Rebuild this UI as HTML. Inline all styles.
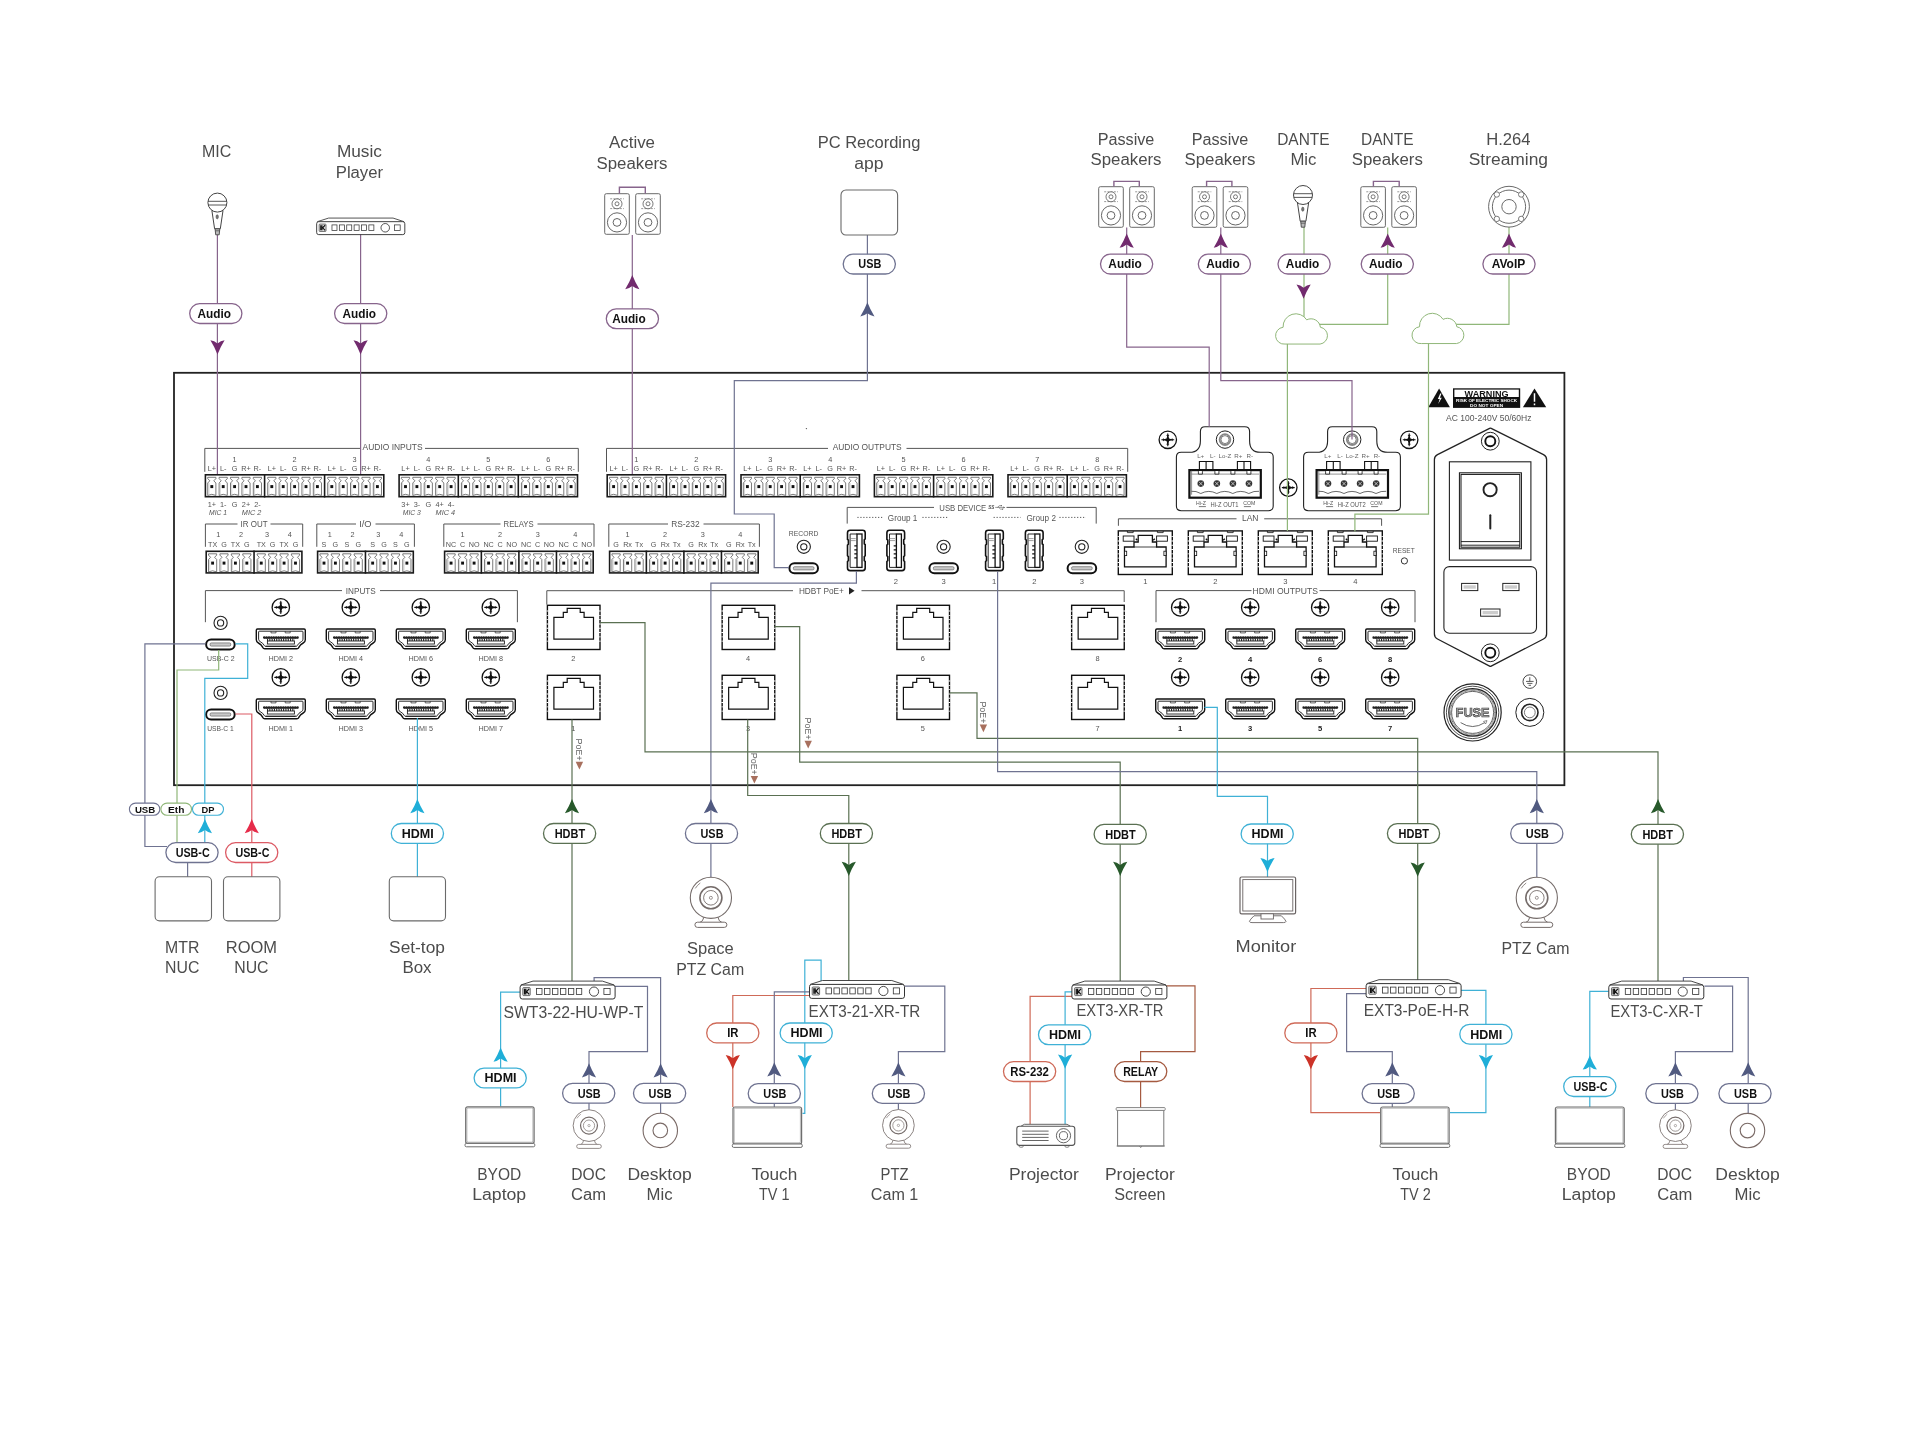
<!DOCTYPE html>
<html><head><meta charset="utf-8"><title>Connection diagram</title>
<style>html,body{margin:0;padding:0;background:#fff}svg{display:block;will-change:transform}text{font-family:"Liberation Sans",sans-serif}</style></head>
<body>
<svg width="1920" height="1443" viewBox="0 0 1920 1443">
<rect width="1920" height="1443" fill="#fff"/>
<defs><g id="pin"><path d="M1.7,21.4 V9 L3.9,6.8 L1.7,4.6 V3.3 H10.3 V4.6 L8.1,6.8 L10.3,9 V21.4 Q6,19.2 1.7,21.4 Z" fill="#fff" stroke="#555" stroke-width="0.8" stroke-linejoin="round"/><path d="M3,20 V9" stroke="#bbb" stroke-width="0.6"/><rect x="4.5" y="11.1" width="3" height="3" fill="#111"/></g><g id="hdmi"><path d="M-24.5,1.8 Q-24.5,0.6 -23.3,0.6 H23.3 Q24.5,0.6 24.5,1.8 V11.4 Q24.5,13.6 22.4,14.6 Q19.2,16.2 18,19 Q17.5,20.3 16,20.3 H-16 Q-17.5,20.3 -18,19 Q-19.2,16.2 -22.4,14.6 Q-24.5,13.6 -24.5,11.4 Z" fill="#fff" stroke="#111" stroke-width="1.4" stroke-linejoin="round"/><path d="M-22.2,3.6 Q-22.2,2.8 -21.4,2.8 H21.4 Q22.2,2.8 22.2,3.6 V10.8 Q22.2,12.4 20.6,13.2 Q17.6,14.8 16.4,17.2 Q16,18.1 15,18.1 H-15 Q-16,18.1 -16.4,17.2 Q-17.6,14.8 -20.6,13.2 Q-22.2,12.4 -22.2,10.8 Z" fill="none" stroke="#111" stroke-width="0.9"/><path d="M-9.8,2.8 v1.7 h5 v-1.7 M4.4,2.8 v1.7 h5 v-1.7" fill="none" stroke="#222" stroke-width="0.7"/><line x1="-16.6" y1="9.1" x2="16.8" y2="9.1" stroke="#222" stroke-width="2.5" stroke-dasharray="0.1 2.28" stroke-linecap="round"/><line x1="-16.6" y1="9.7" x2="16.8" y2="9.7" stroke="#222" stroke-width="1"/><line x1="-13.8" y1="11.6" x2="14" y2="11.6" stroke="#222" stroke-width="2.4" stroke-dasharray="1.1 1.2"/><rect x="-13.4" y="12.6" width="27" height="3" fill="#fff" stroke="#222" stroke-width="0.9"/><line x1="-15.4" y1="17" x2="15.4" y2="17" stroke="#777" stroke-width="0.7"/></g><g id="screw"><circle r="8.7" fill="#fff" stroke="#111" stroke-width="1.3"/><path d="M-6,0 H6 M0,-6 V6" stroke="#111" stroke-width="1.1" stroke-linecap="round"/><path d="M0,-5.2 L1.3,-1.3 L5.2,0 L1.3,1.3 L0,5.2 L-1.3,1.3 L-5.2,0 L-1.3,-1.3 Z" fill="#111"/><path d="M-1.3,-4.4 H1.3 M-1.3,4.4 H1.3 M-4.4,-1.3 V1.3 M4.4,-1.3 V1.3" stroke="#111" stroke-width="0.9"/></g><g id="usbc"><rect x="1" y="1" width="28.6" height="10" rx="5" fill="#fff" stroke="#111" stroke-width="2"/><rect x="5" y="4.4" width="20.6" height="3.2" rx="1.2" fill="#c9c9c9" stroke="#666" stroke-width="0.7"/></g><g id="jack"><circle r="6.6" fill="#fff" stroke="#222" stroke-width="1.1"/><circle r="3.1" fill="#fff" stroke="#222" stroke-width="1.1"/></g><g id="usba"><path d="M3.4,0.8 H15.9 Q18.5,0.8 18.5,3.4 V9.5 l-0.9,0.9 v4 l0.9,0.9 V26.3 l-0.9,0.9 v4 l0.9,0.9 V38.6 Q18.5,41.2 15.9,41.2 H3.4 Q0.8,41.2 0.8,38.6 V32.1 l0.9,-0.9 v-4 l-0.9,-0.9 V15.7 l0.9,-0.9 v-4 l-0.9,-0.9 V3.4 Q0.8,0.8 3.4,0.8 Z" fill="#fff" stroke="#111" stroke-width="1.6"/><rect x="10.3" y="4.6" width="5" height="33.4" fill="#fff" stroke="#111" stroke-width="1.3"/><path d="M3.4,4.6 H10.3 M3.4,38 H10.3 M3.4,4.6 V38" fill="none" stroke="#111" stroke-width="0.9"/><path d="M3.4,9.2 H9 M3.4,11.2 H9" stroke="#777" stroke-width="0.7"/><path d="M7.6,16.5 H10.3 M7.6,20.5 H10.3 M7.6,24.5 H10.3 M7.6,28.5 H10.3" stroke="#111" stroke-width="1.2"/></g><g id="rjh"><rect x="0.7" y="0.7" width="52.6" height="44.2" fill="#fff" stroke="#111" stroke-width="1.4"/><path d="M0.8,6 V40 M53.2,6 V40" stroke="#fff" stroke-width="1.8" stroke-dasharray="0.9 3.4"/><path d="M7.2,34.6 V12.8 H16.6 V7.8 H20.5 V3.8 H33.5 V7.8 H37.4 V12.8 H46.8 V34.6 Z" fill="#fff" stroke="#111" stroke-width="1.2"/></g><g id="rjl"><rect x="0.7" y="0.7" width="54" height="43.6" fill="#fff" stroke="#111" stroke-width="1.4"/><path d="M0.8,6 V40 M54.6,6 V40" stroke="#fff" stroke-width="1.8" stroke-dasharray="0.9 3.4"/><path d="M9.8,0.8 v1.6 h5.8 v-1.6 M39.8,0.8 v1.6 h5.8 v-1.6" fill="none" stroke="#111" stroke-width="0.8"/><rect x="5.6" y="5.8" width="10.8" height="5.2" fill="#fff" stroke="#111" stroke-width="0.9"/><rect x="39" y="5.8" width="10.8" height="5.2" fill="#fff" stroke="#111" stroke-width="0.9"/><path d="M6.9,36.6 V16.8 H16.4 V11.8 H20.6 V5.2 H34.8 V11.8 H39 V16.8 H48.5 V36.6 Z" fill="#fff" stroke="#111" stroke-width="1.3"/><path d="M16.4,16.8 H39" stroke="#111" stroke-width="0.8"/><path d="M18.2,8.5 l1.6,1.6 M37.2,8.5 l-1.6,1.6" stroke="#111" stroke-width="1.3"/><rect x="6.9" y="21" width="2.2" height="4.4" fill="#fff" stroke="#111" stroke-width="0.8"/><rect x="46.3" y="21" width="2.2" height="4.4" fill="#fff" stroke="#111" stroke-width="0.8"/></g><g id="kdev"><path d="M1.2,4.4 L13.4,0.5 H82.8 L94.6,4.4" fill="#fff" stroke="#333" stroke-width="0.9"/><rect x="0.5" y="4.4" width="95" height="14" rx="2.2" fill="#fff" stroke="#333" stroke-width="1"/><rect x="3.2" y="7" width="7.4" height="8" rx="0.8" fill="#ddd" stroke="#333" stroke-width="0.7"/><path d="M4.9,8.2 V13.8 M6.2,8.2 V13.8 M9.6,8.2 L7,11 L9.6,13.8" fill="none" stroke="#111" stroke-width="1.2"/><rect x="17" y="7.9" width="5.4" height="6" fill="#fff" stroke="#333" stroke-width="0.8"/><rect x="24.95" y="7.9" width="5.4" height="6" fill="#fff" stroke="#333" stroke-width="0.8"/><rect x="32.9" y="7.9" width="5.4" height="6" fill="#fff" stroke="#333" stroke-width="0.8"/><rect x="40.85" y="7.9" width="5.4" height="6" fill="#fff" stroke="#333" stroke-width="0.8"/><rect x="48.8" y="7.9" width="5.4" height="6" fill="#fff" stroke="#333" stroke-width="0.8"/><rect x="56.75" y="7.9" width="5.4" height="6" fill="#fff" stroke="#333" stroke-width="0.8"/><circle cx="74.4" cy="11" r="4.6" fill="#fff" stroke="#333" stroke-width="0.9"/><rect x="84.3" y="7.9" width="6.2" height="6" fill="#fff" stroke="#333" stroke-width="0.8"/></g><g id="spk"><rect x="0.5" y="0.5" width="24.6" height="40.6" rx="1.6" fill="#fff" stroke="#6a6a6a" stroke-width="1"/><path d="M6,5.6 H19.6 M6,15.4 H19.6" stroke="#6a6a6a" stroke-width="0.7" stroke-dasharray="2 1.2"/><circle cx="12.8" cy="10.6" r="5" fill="#fff" stroke="#555" stroke-width="0.8"/><circle cx="12.8" cy="10.6" r="2" fill="#fff" stroke="#555" stroke-width="0.8"/><circle cx="12.8" cy="29.2" r="9.6" fill="#fff" stroke="#555" stroke-width="0.9"/><circle cx="12.8" cy="29.2" r="3.9" fill="#fff" stroke="#555" stroke-width="0.9"/></g><g id="mic"><path d="M-5.5,8 L-2.8,26.2 H2.9 L5.6,8 Z" fill="#fff" stroke="#444" stroke-width="1" stroke-linejoin="round"/><path d="M-2.3,26.2 L-1.7,32.2 H1.8 L2.4,26.2 Z" fill="#bbb" stroke="#444" stroke-width="0.9" stroke-linejoin="round"/><path d="M-2,28.2 H2.1" stroke="#444" stroke-width="0.7"/><circle r="9.5" fill="#fff" stroke="#444" stroke-width="1"/><path d="M-9.4,-1.3 H9.4 M-9.2,2.4 H9.2" stroke="#444" stroke-width="0.9"/><ellipse cx="-0.2" cy="14.2" rx="1.2" ry="2.1" fill="#777" stroke="#444" stroke-width="0.5"/></g><g id="cam"><path d="M-7,19.4 Q-8,24 -11,24.6 M7,19.4 Q8,24 11,24.6" fill="none" stroke="#756c6a" stroke-width="1"/><rect x="-16" y="24.4" width="32" height="5.2" rx="2.6" fill="#fff" stroke="#756c6a" stroke-width="1"/><circle r="20.6" fill="#fff" stroke="#756c6a" stroke-width="1.1"/><path d="M-15.6,-9.4 A18.2,18.2 0 0 1 -10.6,-14.8" fill="none" stroke="#756c6a" stroke-width="0.8"/><circle r="11" fill="#fff" stroke="#756c6a" stroke-width="1.6"/><circle r="7.3" fill="#fff" stroke="#756c6a" stroke-width="0.9"/><circle r="1.5" fill="#fff" stroke="#756c6a" stroke-width="0.7"/></g><g id="cloud"><path d="M8.4,30.85 A8.4,8.4 0 0 1 6.5,14.05 A12.76,12.76 0 0 1 30.1,6.65 A9.44,9.44 0 0 1 43.8,14.05 A8.5,8.5 0 0 1 43.5,30.85 Z" fill="#fff" stroke="#90b779" stroke-width="1"/></g><g id="hiz"><path d="M28.6,0 H68.4 Q73.2,0 73.2,4.8 V14 Q73.2,25.6 84,25.6 H92 Q96.8,25.6 96.8,30.4 V79.2 Q96.8,84 92,84 H4.8 Q0,84 0,79.2 V30.4 Q0,25.6 4.8,25.6 H13.2 Q24,25.6 24,14 V4.8 Q24,0 28.6,0 Z" fill="#fff" stroke="#222" stroke-width="1.1"/><circle cx="48.6" cy="12.9" r="8.7" fill="#fff" stroke="#222" stroke-width="1"/><circle cx="48.6" cy="12.9" r="5.4" fill="#fff" stroke="#888" stroke-width="1.8"/><circle cx="48.6" cy="12.9" r="4" fill="none" stroke="#333" stroke-width="0.6"/><path d="M23,43.2 V34.8 H36.5 V43.2 M29.7,34.8 V43.2 M61,43.2 V34.8 H74.2 V43.2 M67.6,34.8 V43.2" fill="#fff" stroke="#111" stroke-width="1.1"/><rect x="13" y="43.4" width="71.4" height="27.6" fill="#fff" stroke="#111" stroke-width="2.2"/><path d="M15,47.4 H82.6 M15.2,44 V68" fill="none" stroke="#666" stroke-width="0.7"/><path d="M22,44.4 v3 h4 v-3 M38.5,44.4 v3 h4 v-3 M54.5,44.4 v3 h4 v-3 M70.5,44.4 v3 h4 v-3" fill="#fff" stroke="#111" stroke-width="0.8"/><path d="M15,64.6 Q19.5,64 24.4,66.8 Q32.4,62.6 40.4,66.8 Q48.4,62.6 56.4,66.8 Q64.4,62.6 72.4,66.8 Q77.6,64 82.6,64.6" fill="none" stroke="#444" stroke-width="0.8"/><g transform="translate(24.4,56.9)"><circle r="3.3" fill="#333"/><path d="M-2,-2 L2,2 M-2,2 L2,-2" stroke="#ddd" stroke-width="0.8"/></g><g transform="translate(40.45,56.9)"><circle r="3.3" fill="#333"/><path d="M-2,-2 L2,2 M-2,2 L2,-2" stroke="#ddd" stroke-width="0.8"/></g><g transform="translate(56.5,56.9)"><circle r="3.3" fill="#333"/><path d="M-2,-2 L2,2 M-2,2 L2,-2" stroke="#ddd" stroke-width="0.8"/></g><g transform="translate(72.55,56.9)"><circle r="3.3" fill="#333"/><path d="M-2,-2 L2,2 M-2,2 L2,-2" stroke="#ddd" stroke-width="0.8"/></g></g></defs>
<rect x="174" y="372.8" width="1390.4" height="412.4" fill="#fff" stroke="#222" stroke-width="1.8"/>
<path d="M204.8,471.8 V448.4 H360.5 M425,448.4 H578.3 V471.8" fill="none" stroke="#555" stroke-width="1"/>
<text x="392.6" y="450.4" font-size="8.6" text-anchor="middle" font-weight="normal" fill="#555" textLength="60" lengthAdjust="spacingAndGlyphs">AUDIO INPUTS</text>
<rect x="205.4" y="474.8" width="178.4" height="21.9" fill="#fff" stroke="#1a1a1a" stroke-width="1.6"/>
<use href="#pin" transform="translate(206.1,474) scale(0.95,1)"/>
<use href="#pin" transform="translate(217.5,474) scale(0.95,1)"/>
<use href="#pin" transform="translate(228.9,474) scale(0.95,1)"/>
<use href="#pin" transform="translate(240.3,474) scale(0.95,1)"/>
<use href="#pin" transform="translate(251.7,474) scale(0.95,1)"/>
<use href="#pin" transform="translate(266.1,474) scale(0.95,1)"/>
<use href="#pin" transform="translate(277.5,474) scale(0.95,1)"/>
<use href="#pin" transform="translate(288.9,474) scale(0.95,1)"/>
<use href="#pin" transform="translate(300.3,474) scale(0.95,1)"/>
<use href="#pin" transform="translate(311.7,474) scale(0.95,1)"/>
<line x1="264.6" y1="474" x2="264.6" y2="497.5" stroke="#1a1a1a" stroke-width="1.6"/>
<use href="#pin" transform="translate(326.1,474) scale(0.95,1)"/>
<use href="#pin" transform="translate(337.5,474) scale(0.95,1)"/>
<use href="#pin" transform="translate(348.9,474) scale(0.95,1)"/>
<use href="#pin" transform="translate(360.3,474) scale(0.95,1)"/>
<use href="#pin" transform="translate(371.7,474) scale(0.95,1)"/>
<line x1="324.6" y1="474" x2="324.6" y2="497.5" stroke="#1a1a1a" stroke-width="1.6"/>
<text x="234.6" y="461.83" font-size="7.3" text-anchor="middle" font-weight="normal" fill="#555">1</text>
<text x="211.8" y="470.83" font-size="7.3" text-anchor="middle" font-weight="normal" fill="#555">L+</text>
<text x="223.2" y="470.83" font-size="7.3" text-anchor="middle" font-weight="normal" fill="#555">L-</text>
<text x="234.6" y="470.83" font-size="7.3" text-anchor="middle" font-weight="normal" fill="#555">G</text>
<text x="246" y="470.83" font-size="7.3" text-anchor="middle" font-weight="normal" fill="#555">R+</text>
<text x="257.4" y="470.83" font-size="7.3" text-anchor="middle" font-weight="normal" fill="#555">R-</text>
<text x="294.6" y="461.83" font-size="7.3" text-anchor="middle" font-weight="normal" fill="#555">2</text>
<text x="271.8" y="470.83" font-size="7.3" text-anchor="middle" font-weight="normal" fill="#555">L+</text>
<text x="283.2" y="470.83" font-size="7.3" text-anchor="middle" font-weight="normal" fill="#555">L-</text>
<text x="294.6" y="470.83" font-size="7.3" text-anchor="middle" font-weight="normal" fill="#555">G</text>
<text x="306" y="470.83" font-size="7.3" text-anchor="middle" font-weight="normal" fill="#555">R+</text>
<text x="317.4" y="470.83" font-size="7.3" text-anchor="middle" font-weight="normal" fill="#555">R-</text>
<text x="354.6" y="461.83" font-size="7.3" text-anchor="middle" font-weight="normal" fill="#555">3</text>
<text x="331.8" y="470.83" font-size="7.3" text-anchor="middle" font-weight="normal" fill="#555">L+</text>
<text x="343.2" y="470.83" font-size="7.3" text-anchor="middle" font-weight="normal" fill="#555">L-</text>
<text x="354.6" y="470.83" font-size="7.3" text-anchor="middle" font-weight="normal" fill="#555">G</text>
<text x="366" y="470.83" font-size="7.3" text-anchor="middle" font-weight="normal" fill="#555">R+</text>
<text x="377.4" y="470.83" font-size="7.3" text-anchor="middle" font-weight="normal" fill="#555">R-</text>
<rect x="399.1" y="474.8" width="178.4" height="21.9" fill="#fff" stroke="#1a1a1a" stroke-width="1.6"/>
<use href="#pin" transform="translate(399.8,474) scale(0.95,1)"/>
<use href="#pin" transform="translate(411.2,474) scale(0.95,1)"/>
<use href="#pin" transform="translate(422.6,474) scale(0.95,1)"/>
<use href="#pin" transform="translate(434,474) scale(0.95,1)"/>
<use href="#pin" transform="translate(445.4,474) scale(0.95,1)"/>
<use href="#pin" transform="translate(459.8,474) scale(0.95,1)"/>
<use href="#pin" transform="translate(471.2,474) scale(0.95,1)"/>
<use href="#pin" transform="translate(482.6,474) scale(0.95,1)"/>
<use href="#pin" transform="translate(494,474) scale(0.95,1)"/>
<use href="#pin" transform="translate(505.4,474) scale(0.95,1)"/>
<line x1="458.3" y1="474" x2="458.3" y2="497.5" stroke="#1a1a1a" stroke-width="1.6"/>
<use href="#pin" transform="translate(519.8,474) scale(0.95,1)"/>
<use href="#pin" transform="translate(531.2,474) scale(0.95,1)"/>
<use href="#pin" transform="translate(542.6,474) scale(0.95,1)"/>
<use href="#pin" transform="translate(554,474) scale(0.95,1)"/>
<use href="#pin" transform="translate(565.4,474) scale(0.95,1)"/>
<line x1="518.3" y1="474" x2="518.3" y2="497.5" stroke="#1a1a1a" stroke-width="1.6"/>
<text x="428.3" y="461.83" font-size="7.3" text-anchor="middle" font-weight="normal" fill="#555">4</text>
<text x="405.5" y="470.83" font-size="7.3" text-anchor="middle" font-weight="normal" fill="#555">L+</text>
<text x="416.9" y="470.83" font-size="7.3" text-anchor="middle" font-weight="normal" fill="#555">L-</text>
<text x="428.3" y="470.83" font-size="7.3" text-anchor="middle" font-weight="normal" fill="#555">G</text>
<text x="439.7" y="470.83" font-size="7.3" text-anchor="middle" font-weight="normal" fill="#555">R+</text>
<text x="451.1" y="470.83" font-size="7.3" text-anchor="middle" font-weight="normal" fill="#555">R-</text>
<text x="488.3" y="461.83" font-size="7.3" text-anchor="middle" font-weight="normal" fill="#555">5</text>
<text x="465.5" y="470.83" font-size="7.3" text-anchor="middle" font-weight="normal" fill="#555">L+</text>
<text x="476.9" y="470.83" font-size="7.3" text-anchor="middle" font-weight="normal" fill="#555">L-</text>
<text x="488.3" y="470.83" font-size="7.3" text-anchor="middle" font-weight="normal" fill="#555">G</text>
<text x="499.7" y="470.83" font-size="7.3" text-anchor="middle" font-weight="normal" fill="#555">R+</text>
<text x="511.1" y="470.83" font-size="7.3" text-anchor="middle" font-weight="normal" fill="#555">R-</text>
<text x="548.3" y="461.83" font-size="7.3" text-anchor="middle" font-weight="normal" fill="#555">6</text>
<text x="525.5" y="470.83" font-size="7.3" text-anchor="middle" font-weight="normal" fill="#555">L+</text>
<text x="536.9" y="470.83" font-size="7.3" text-anchor="middle" font-weight="normal" fill="#555">L-</text>
<text x="548.3" y="470.83" font-size="7.3" text-anchor="middle" font-weight="normal" fill="#555">G</text>
<text x="559.7" y="470.83" font-size="7.3" text-anchor="middle" font-weight="normal" fill="#555">R+</text>
<text x="571.1" y="470.83" font-size="7.3" text-anchor="middle" font-weight="normal" fill="#555">R-</text>
<text x="211.8" y="506.83" font-size="7.3" text-anchor="middle" font-weight="normal" fill="#555">1+</text>
<text x="223.2" y="506.83" font-size="7.3" text-anchor="middle" font-weight="normal" fill="#555">1-</text>
<text x="234.6" y="506.83" font-size="7.3" text-anchor="middle" font-weight="normal" fill="#555">G</text>
<text x="246" y="506.83" font-size="7.3" text-anchor="middle" font-weight="normal" fill="#555">2+</text>
<text x="257.4" y="506.83" font-size="7.3" text-anchor="middle" font-weight="normal" fill="#555">2-</text>
<text x="218.1" y="514.92" font-size="7" text-anchor="middle" font-weight="normal" fill="#555" textLength="18" lengthAdjust="spacingAndGlyphs" font-style="italic">MIC 1</text>
<text x="251.6" y="514.92" font-size="7" text-anchor="middle" font-weight="normal" fill="#555" textLength="19.5" lengthAdjust="spacingAndGlyphs" font-style="italic">MIC 2</text>
<text x="405.5" y="506.83" font-size="7.3" text-anchor="middle" font-weight="normal" fill="#555">3+</text>
<text x="416.9" y="506.83" font-size="7.3" text-anchor="middle" font-weight="normal" fill="#555">3-</text>
<text x="428.3" y="506.83" font-size="7.3" text-anchor="middle" font-weight="normal" fill="#555">G</text>
<text x="439.7" y="506.83" font-size="7.3" text-anchor="middle" font-weight="normal" fill="#555">4+</text>
<text x="451.1" y="506.83" font-size="7.3" text-anchor="middle" font-weight="normal" fill="#555">4-</text>
<text x="411.8" y="514.92" font-size="7" text-anchor="middle" font-weight="normal" fill="#555" textLength="18" lengthAdjust="spacingAndGlyphs" font-style="italic">MIC 3</text>
<text x="445.3" y="514.92" font-size="7" text-anchor="middle" font-weight="normal" fill="#555" textLength="19.5" lengthAdjust="spacingAndGlyphs" font-style="italic">MIC 4</text>
<path d="M606.5,471.8 V448.4 H828 M906.5,448.4 H1127.7 V471.8" fill="none" stroke="#555" stroke-width="1"/>
<text x="867.2" y="450.4" font-size="8.6" text-anchor="middle" font-weight="normal" fill="#555" textLength="69" lengthAdjust="spacingAndGlyphs">AUDIO OUTPUTS</text>
<rect x="607.2" y="474.8" width="118.4" height="21.9" fill="#fff" stroke="#1a1a1a" stroke-width="1.6"/>
<use href="#pin" transform="translate(607.9,474) scale(0.95,1)"/>
<use href="#pin" transform="translate(619.3,474) scale(0.95,1)"/>
<use href="#pin" transform="translate(630.7,474) scale(0.95,1)"/>
<use href="#pin" transform="translate(642.1,474) scale(0.95,1)"/>
<use href="#pin" transform="translate(653.5,474) scale(0.95,1)"/>
<use href="#pin" transform="translate(667.9,474) scale(0.95,1)"/>
<use href="#pin" transform="translate(679.3,474) scale(0.95,1)"/>
<use href="#pin" transform="translate(690.7,474) scale(0.95,1)"/>
<use href="#pin" transform="translate(702.1,474) scale(0.95,1)"/>
<use href="#pin" transform="translate(713.5,474) scale(0.95,1)"/>
<line x1="666.4" y1="474" x2="666.4" y2="497.5" stroke="#1a1a1a" stroke-width="1.6"/>
<text x="636.4" y="461.83" font-size="7.3" text-anchor="middle" font-weight="normal" fill="#555">1</text>
<text x="613.6" y="470.83" font-size="7.3" text-anchor="middle" font-weight="normal" fill="#555">L+</text>
<text x="625" y="470.83" font-size="7.3" text-anchor="middle" font-weight="normal" fill="#555">L-</text>
<text x="636.4" y="470.83" font-size="7.3" text-anchor="middle" font-weight="normal" fill="#555">G</text>
<text x="647.8" y="470.83" font-size="7.3" text-anchor="middle" font-weight="normal" fill="#555">R+</text>
<text x="659.2" y="470.83" font-size="7.3" text-anchor="middle" font-weight="normal" fill="#555">R-</text>
<text x="696.4" y="461.83" font-size="7.3" text-anchor="middle" font-weight="normal" fill="#555">2</text>
<text x="673.6" y="470.83" font-size="7.3" text-anchor="middle" font-weight="normal" fill="#555">L+</text>
<text x="685" y="470.83" font-size="7.3" text-anchor="middle" font-weight="normal" fill="#555">L-</text>
<text x="696.4" y="470.83" font-size="7.3" text-anchor="middle" font-weight="normal" fill="#555">G</text>
<text x="707.8" y="470.83" font-size="7.3" text-anchor="middle" font-weight="normal" fill="#555">R+</text>
<text x="719.2" y="470.83" font-size="7.3" text-anchor="middle" font-weight="normal" fill="#555">R-</text>
<rect x="741" y="474.8" width="118.4" height="21.9" fill="#fff" stroke="#1a1a1a" stroke-width="1.6"/>
<use href="#pin" transform="translate(741.7,474) scale(0.95,1)"/>
<use href="#pin" transform="translate(753.1,474) scale(0.95,1)"/>
<use href="#pin" transform="translate(764.5,474) scale(0.95,1)"/>
<use href="#pin" transform="translate(775.9,474) scale(0.95,1)"/>
<use href="#pin" transform="translate(787.3,474) scale(0.95,1)"/>
<use href="#pin" transform="translate(801.7,474) scale(0.95,1)"/>
<use href="#pin" transform="translate(813.1,474) scale(0.95,1)"/>
<use href="#pin" transform="translate(824.5,474) scale(0.95,1)"/>
<use href="#pin" transform="translate(835.9,474) scale(0.95,1)"/>
<use href="#pin" transform="translate(847.3,474) scale(0.95,1)"/>
<line x1="800.2" y1="474" x2="800.2" y2="497.5" stroke="#1a1a1a" stroke-width="1.6"/>
<text x="770.2" y="461.83" font-size="7.3" text-anchor="middle" font-weight="normal" fill="#555">3</text>
<text x="747.4" y="470.83" font-size="7.3" text-anchor="middle" font-weight="normal" fill="#555">L+</text>
<text x="758.8" y="470.83" font-size="7.3" text-anchor="middle" font-weight="normal" fill="#555">L-</text>
<text x="770.2" y="470.83" font-size="7.3" text-anchor="middle" font-weight="normal" fill="#555">G</text>
<text x="781.6" y="470.83" font-size="7.3" text-anchor="middle" font-weight="normal" fill="#555">R+</text>
<text x="793" y="470.83" font-size="7.3" text-anchor="middle" font-weight="normal" fill="#555">R-</text>
<text x="830.2" y="461.83" font-size="7.3" text-anchor="middle" font-weight="normal" fill="#555">4</text>
<text x="807.4" y="470.83" font-size="7.3" text-anchor="middle" font-weight="normal" fill="#555">L+</text>
<text x="818.8" y="470.83" font-size="7.3" text-anchor="middle" font-weight="normal" fill="#555">L-</text>
<text x="830.2" y="470.83" font-size="7.3" text-anchor="middle" font-weight="normal" fill="#555">G</text>
<text x="841.6" y="470.83" font-size="7.3" text-anchor="middle" font-weight="normal" fill="#555">R+</text>
<text x="853" y="470.83" font-size="7.3" text-anchor="middle" font-weight="normal" fill="#555">R-</text>
<rect x="874.4" y="474.8" width="118.4" height="21.9" fill="#fff" stroke="#1a1a1a" stroke-width="1.6"/>
<use href="#pin" transform="translate(875.1,474) scale(0.95,1)"/>
<use href="#pin" transform="translate(886.5,474) scale(0.95,1)"/>
<use href="#pin" transform="translate(897.9,474) scale(0.95,1)"/>
<use href="#pin" transform="translate(909.3,474) scale(0.95,1)"/>
<use href="#pin" transform="translate(920.7,474) scale(0.95,1)"/>
<use href="#pin" transform="translate(935.1,474) scale(0.95,1)"/>
<use href="#pin" transform="translate(946.5,474) scale(0.95,1)"/>
<use href="#pin" transform="translate(957.9,474) scale(0.95,1)"/>
<use href="#pin" transform="translate(969.3,474) scale(0.95,1)"/>
<use href="#pin" transform="translate(980.7,474) scale(0.95,1)"/>
<line x1="933.6" y1="474" x2="933.6" y2="497.5" stroke="#1a1a1a" stroke-width="1.6"/>
<text x="903.6" y="461.83" font-size="7.3" text-anchor="middle" font-weight="normal" fill="#555">5</text>
<text x="880.8" y="470.83" font-size="7.3" text-anchor="middle" font-weight="normal" fill="#555">L+</text>
<text x="892.2" y="470.83" font-size="7.3" text-anchor="middle" font-weight="normal" fill="#555">L-</text>
<text x="903.6" y="470.83" font-size="7.3" text-anchor="middle" font-weight="normal" fill="#555">G</text>
<text x="915" y="470.83" font-size="7.3" text-anchor="middle" font-weight="normal" fill="#555">R+</text>
<text x="926.4" y="470.83" font-size="7.3" text-anchor="middle" font-weight="normal" fill="#555">R-</text>
<text x="963.6" y="461.83" font-size="7.3" text-anchor="middle" font-weight="normal" fill="#555">6</text>
<text x="940.8" y="470.83" font-size="7.3" text-anchor="middle" font-weight="normal" fill="#555">L+</text>
<text x="952.2" y="470.83" font-size="7.3" text-anchor="middle" font-weight="normal" fill="#555">L-</text>
<text x="963.6" y="470.83" font-size="7.3" text-anchor="middle" font-weight="normal" fill="#555">G</text>
<text x="975" y="470.83" font-size="7.3" text-anchor="middle" font-weight="normal" fill="#555">R+</text>
<text x="986.4" y="470.83" font-size="7.3" text-anchor="middle" font-weight="normal" fill="#555">R-</text>
<rect x="1008" y="474.8" width="118.4" height="21.9" fill="#fff" stroke="#1a1a1a" stroke-width="1.6"/>
<use href="#pin" transform="translate(1008.7,474) scale(0.95,1)"/>
<use href="#pin" transform="translate(1020.1,474) scale(0.95,1)"/>
<use href="#pin" transform="translate(1031.5,474) scale(0.95,1)"/>
<use href="#pin" transform="translate(1042.9,474) scale(0.95,1)"/>
<use href="#pin" transform="translate(1054.3,474) scale(0.95,1)"/>
<use href="#pin" transform="translate(1068.7,474) scale(0.95,1)"/>
<use href="#pin" transform="translate(1080.1,474) scale(0.95,1)"/>
<use href="#pin" transform="translate(1091.5,474) scale(0.95,1)"/>
<use href="#pin" transform="translate(1102.9,474) scale(0.95,1)"/>
<use href="#pin" transform="translate(1114.3,474) scale(0.95,1)"/>
<line x1="1067.2" y1="474" x2="1067.2" y2="497.5" stroke="#1a1a1a" stroke-width="1.6"/>
<text x="1037.2" y="461.83" font-size="7.3" text-anchor="middle" font-weight="normal" fill="#555">7</text>
<text x="1014.4" y="470.83" font-size="7.3" text-anchor="middle" font-weight="normal" fill="#555">L+</text>
<text x="1025.8" y="470.83" font-size="7.3" text-anchor="middle" font-weight="normal" fill="#555">L-</text>
<text x="1037.2" y="470.83" font-size="7.3" text-anchor="middle" font-weight="normal" fill="#555">G</text>
<text x="1048.6" y="470.83" font-size="7.3" text-anchor="middle" font-weight="normal" fill="#555">R+</text>
<text x="1060" y="470.83" font-size="7.3" text-anchor="middle" font-weight="normal" fill="#555">R-</text>
<text x="1097.2" y="461.83" font-size="7.3" text-anchor="middle" font-weight="normal" fill="#555">8</text>
<text x="1074.4" y="470.83" font-size="7.3" text-anchor="middle" font-weight="normal" fill="#555">L+</text>
<text x="1085.8" y="470.83" font-size="7.3" text-anchor="middle" font-weight="normal" fill="#555">L-</text>
<text x="1097.2" y="470.83" font-size="7.3" text-anchor="middle" font-weight="normal" fill="#555">G</text>
<text x="1108.6" y="470.83" font-size="7.3" text-anchor="middle" font-weight="normal" fill="#555">R+</text>
<text x="1120" y="470.83" font-size="7.3" text-anchor="middle" font-weight="normal" fill="#555">R-</text>
<path d="M205.4,546.8 V524 H237.5 M270.5,524 H302.7 V546.8" fill="none" stroke="#555" stroke-width="1"/>
<text x="254" y="527.1" font-size="8.6" text-anchor="middle" font-weight="normal" fill="#555" textLength="27" lengthAdjust="spacingAndGlyphs">IR OUT</text>
<rect x="206.2" y="551.3" width="95.7" height="21.6" fill="#fff" stroke="#1a1a1a" stroke-width="1.6"/>
<use href="#pin" transform="translate(206.9,550.5) scale(0.95,1)"/>
<use href="#pin" transform="translate(218.31,550.5) scale(0.95,1)"/>
<use href="#pin" transform="translate(229.72,550.5) scale(0.95,1)"/>
<use href="#pin" transform="translate(241.14,550.5) scale(0.95,1)"/>
<use href="#pin" transform="translate(255.55,550.5) scale(0.95,1)"/>
<use href="#pin" transform="translate(266.96,550.5) scale(0.95,1)"/>
<use href="#pin" transform="translate(278.38,550.5) scale(0.95,1)"/>
<use href="#pin" transform="translate(289.79,550.5) scale(0.95,1)"/>
<line x1="254.05" y1="550.5" x2="254.05" y2="573.7" stroke="#1a1a1a" stroke-width="1.6"/>
<text x="212.61" y="546.59" font-size="7.2" text-anchor="middle" font-weight="normal" fill="#555">TX</text>
<text x="224.02" y="546.59" font-size="7.2" text-anchor="middle" font-weight="normal" fill="#555">G</text>
<text x="235.43" y="546.59" font-size="7.2" text-anchor="middle" font-weight="normal" fill="#555">TX</text>
<text x="246.84" y="546.59" font-size="7.2" text-anchor="middle" font-weight="normal" fill="#555">G</text>
<text x="261.26" y="546.59" font-size="7.2" text-anchor="middle" font-weight="normal" fill="#555">TX</text>
<text x="272.67" y="546.59" font-size="7.2" text-anchor="middle" font-weight="normal" fill="#555">G</text>
<text x="284.08" y="546.59" font-size="7.2" text-anchor="middle" font-weight="normal" fill="#555">TX</text>
<text x="295.49" y="546.59" font-size="7.2" text-anchor="middle" font-weight="normal" fill="#555">G</text>
<text x="218.31" y="537.03" font-size="7.3" text-anchor="middle" font-weight="normal" fill="#555">1</text>
<text x="241.14" y="537.03" font-size="7.3" text-anchor="middle" font-weight="normal" fill="#555">2</text>
<text x="266.96" y="537.03" font-size="7.3" text-anchor="middle" font-weight="normal" fill="#555">3</text>
<text x="289.79" y="537.03" font-size="7.3" text-anchor="middle" font-weight="normal" fill="#555">4</text>
<path d="M316.8,546.8 V524 H356 M375.5,524 H414.4 V546.8" fill="none" stroke="#555" stroke-width="1"/>
<text x="365.4" y="527.1" font-size="8.6" text-anchor="middle" font-weight="normal" fill="#555" textLength="12.5" lengthAdjust="spacingAndGlyphs">I/O</text>
<rect x="317.6" y="551.3" width="95.7" height="21.6" fill="#fff" stroke="#1a1a1a" stroke-width="1.6"/>
<use href="#pin" transform="translate(318.3,550.5) scale(0.95,1)"/>
<use href="#pin" transform="translate(329.71,550.5) scale(0.95,1)"/>
<use href="#pin" transform="translate(341.12,550.5) scale(0.95,1)"/>
<use href="#pin" transform="translate(352.54,550.5) scale(0.95,1)"/>
<use href="#pin" transform="translate(366.95,550.5) scale(0.95,1)"/>
<use href="#pin" transform="translate(378.36,550.5) scale(0.95,1)"/>
<use href="#pin" transform="translate(389.77,550.5) scale(0.95,1)"/>
<use href="#pin" transform="translate(401.19,550.5) scale(0.95,1)"/>
<line x1="365.45" y1="550.5" x2="365.45" y2="573.7" stroke="#1a1a1a" stroke-width="1.6"/>
<text x="324.01" y="546.59" font-size="7.2" text-anchor="middle" font-weight="normal" fill="#555">S</text>
<text x="335.42" y="546.59" font-size="7.2" text-anchor="middle" font-weight="normal" fill="#555">G</text>
<text x="346.83" y="546.59" font-size="7.2" text-anchor="middle" font-weight="normal" fill="#555">S</text>
<text x="358.24" y="546.59" font-size="7.2" text-anchor="middle" font-weight="normal" fill="#555">G</text>
<text x="372.66" y="546.59" font-size="7.2" text-anchor="middle" font-weight="normal" fill="#555">S</text>
<text x="384.07" y="546.59" font-size="7.2" text-anchor="middle" font-weight="normal" fill="#555">G</text>
<text x="395.48" y="546.59" font-size="7.2" text-anchor="middle" font-weight="normal" fill="#555">S</text>
<text x="406.89" y="546.59" font-size="7.2" text-anchor="middle" font-weight="normal" fill="#555">G</text>
<text x="329.71" y="537.03" font-size="7.3" text-anchor="middle" font-weight="normal" fill="#555">1</text>
<text x="352.54" y="537.03" font-size="7.3" text-anchor="middle" font-weight="normal" fill="#555">2</text>
<text x="378.36" y="537.03" font-size="7.3" text-anchor="middle" font-weight="normal" fill="#555">3</text>
<text x="401.19" y="537.03" font-size="7.3" text-anchor="middle" font-weight="normal" fill="#555">4</text>
<path d="M443.8,546.8 V524 H500.5 M537.5,524 H594 V546.8" fill="none" stroke="#555" stroke-width="1"/>
<text x="518.6" y="527.1" font-size="8.6" text-anchor="middle" font-weight="normal" fill="#555" textLength="30" lengthAdjust="spacingAndGlyphs">RELAYS</text>
<rect x="444.6" y="551.3" width="148.6" height="21.6" fill="#fff" stroke="#1a1a1a" stroke-width="1.6"/>
<use href="#pin" transform="translate(445.3,550.5) scale(0.96,1)"/>
<use href="#pin" transform="translate(456.82,550.5) scale(0.96,1)"/>
<use href="#pin" transform="translate(468.33,550.5) scale(0.96,1)"/>
<use href="#pin" transform="translate(482.85,550.5) scale(0.96,1)"/>
<use href="#pin" transform="translate(494.37,550.5) scale(0.96,1)"/>
<use href="#pin" transform="translate(505.88,550.5) scale(0.96,1)"/>
<line x1="481.35" y1="550.5" x2="481.35" y2="573.7" stroke="#1a1a1a" stroke-width="1.6"/>
<use href="#pin" transform="translate(520.4,550.5) scale(0.96,1)"/>
<use href="#pin" transform="translate(531.92,550.5) scale(0.96,1)"/>
<use href="#pin" transform="translate(543.43,550.5) scale(0.96,1)"/>
<line x1="518.9" y1="550.5" x2="518.9" y2="573.7" stroke="#1a1a1a" stroke-width="1.6"/>
<use href="#pin" transform="translate(557.95,550.5) scale(0.96,1)"/>
<use href="#pin" transform="translate(569.47,550.5) scale(0.96,1)"/>
<use href="#pin" transform="translate(580.98,550.5) scale(0.96,1)"/>
<line x1="556.45" y1="550.5" x2="556.45" y2="573.7" stroke="#1a1a1a" stroke-width="1.6"/>
<text x="451.06" y="546.59" font-size="7.2" text-anchor="middle" font-weight="normal" fill="#555">NC</text>
<text x="462.57" y="546.59" font-size="7.2" text-anchor="middle" font-weight="normal" fill="#555">C</text>
<text x="474.09" y="546.59" font-size="7.2" text-anchor="middle" font-weight="normal" fill="#555">NO</text>
<text x="488.61" y="546.59" font-size="7.2" text-anchor="middle" font-weight="normal" fill="#555">NC</text>
<text x="500.12" y="546.59" font-size="7.2" text-anchor="middle" font-weight="normal" fill="#555">C</text>
<text x="511.64" y="546.59" font-size="7.2" text-anchor="middle" font-weight="normal" fill="#555">NO</text>
<text x="526.16" y="546.59" font-size="7.2" text-anchor="middle" font-weight="normal" fill="#555">NC</text>
<text x="537.67" y="546.59" font-size="7.2" text-anchor="middle" font-weight="normal" fill="#555">C</text>
<text x="549.19" y="546.59" font-size="7.2" text-anchor="middle" font-weight="normal" fill="#555">NO</text>
<text x="563.71" y="546.59" font-size="7.2" text-anchor="middle" font-weight="normal" fill="#555">NC</text>
<text x="575.23" y="546.59" font-size="7.2" text-anchor="middle" font-weight="normal" fill="#555">C</text>
<text x="586.74" y="546.59" font-size="7.2" text-anchor="middle" font-weight="normal" fill="#555">NO</text>
<text x="462.57" y="537.03" font-size="7.3" text-anchor="middle" font-weight="normal" fill="#555">1</text>
<text x="500.12" y="537.03" font-size="7.3" text-anchor="middle" font-weight="normal" fill="#555">2</text>
<text x="537.67" y="537.03" font-size="7.3" text-anchor="middle" font-weight="normal" fill="#555">3</text>
<text x="575.23" y="537.03" font-size="7.3" text-anchor="middle" font-weight="normal" fill="#555">4</text>
<path d="M608.8,546.8 V524 H668 M703.5,524 H759.4 V546.8" fill="none" stroke="#555" stroke-width="1"/>
<text x="685.4" y="527.1" font-size="8.6" text-anchor="middle" font-weight="normal" fill="#555" textLength="28.5" lengthAdjust="spacingAndGlyphs">RS-232</text>
<rect x="609.6" y="551.3" width="148.6" height="21.6" fill="#fff" stroke="#1a1a1a" stroke-width="1.6"/>
<use href="#pin" transform="translate(610.3,550.5) scale(0.96,1)"/>
<use href="#pin" transform="translate(621.82,550.5) scale(0.96,1)"/>
<use href="#pin" transform="translate(633.33,550.5) scale(0.96,1)"/>
<use href="#pin" transform="translate(647.85,550.5) scale(0.96,1)"/>
<use href="#pin" transform="translate(659.37,550.5) scale(0.96,1)"/>
<use href="#pin" transform="translate(670.88,550.5) scale(0.96,1)"/>
<line x1="646.35" y1="550.5" x2="646.35" y2="573.7" stroke="#1a1a1a" stroke-width="1.6"/>
<use href="#pin" transform="translate(685.4,550.5) scale(0.96,1)"/>
<use href="#pin" transform="translate(696.92,550.5) scale(0.96,1)"/>
<use href="#pin" transform="translate(708.43,550.5) scale(0.96,1)"/>
<line x1="683.9" y1="550.5" x2="683.9" y2="573.7" stroke="#1a1a1a" stroke-width="1.6"/>
<use href="#pin" transform="translate(722.95,550.5) scale(0.96,1)"/>
<use href="#pin" transform="translate(734.47,550.5) scale(0.96,1)"/>
<use href="#pin" transform="translate(745.98,550.5) scale(0.96,1)"/>
<line x1="721.45" y1="550.5" x2="721.45" y2="573.7" stroke="#1a1a1a" stroke-width="1.6"/>
<text x="616.06" y="546.59" font-size="7.2" text-anchor="middle" font-weight="normal" fill="#555">G</text>
<text x="627.57" y="546.59" font-size="7.2" text-anchor="middle" font-weight="normal" fill="#555">Rx</text>
<text x="639.09" y="546.59" font-size="7.2" text-anchor="middle" font-weight="normal" fill="#555">Tx</text>
<text x="653.61" y="546.59" font-size="7.2" text-anchor="middle" font-weight="normal" fill="#555">G</text>
<text x="665.12" y="546.59" font-size="7.2" text-anchor="middle" font-weight="normal" fill="#555">Rx</text>
<text x="676.64" y="546.59" font-size="7.2" text-anchor="middle" font-weight="normal" fill="#555">Tx</text>
<text x="691.16" y="546.59" font-size="7.2" text-anchor="middle" font-weight="normal" fill="#555">G</text>
<text x="702.67" y="546.59" font-size="7.2" text-anchor="middle" font-weight="normal" fill="#555">Rx</text>
<text x="714.19" y="546.59" font-size="7.2" text-anchor="middle" font-weight="normal" fill="#555">Tx</text>
<text x="728.71" y="546.59" font-size="7.2" text-anchor="middle" font-weight="normal" fill="#555">G</text>
<text x="740.22" y="546.59" font-size="7.2" text-anchor="middle" font-weight="normal" fill="#555">Rx</text>
<text x="751.74" y="546.59" font-size="7.2" text-anchor="middle" font-weight="normal" fill="#555">Tx</text>
<text x="627.57" y="537.03" font-size="7.3" text-anchor="middle" font-weight="normal" fill="#555">1</text>
<text x="665.12" y="537.03" font-size="7.3" text-anchor="middle" font-weight="normal" fill="#555">2</text>
<text x="702.67" y="537.03" font-size="7.3" text-anchor="middle" font-weight="normal" fill="#555">3</text>
<text x="740.22" y="537.03" font-size="7.3" text-anchor="middle" font-weight="normal" fill="#555">4</text>
<text x="803.6" y="535.59" font-size="7.2" text-anchor="middle" font-weight="normal" fill="#555" textLength="29.5" lengthAdjust="spacingAndGlyphs">RECORD</text>
<use href="#jack" x="803.8" y="546.8"/>
<use href="#usbc" x="788.4" y="562.3"/>
<path d="M847.2,523.6 V507.4 H934 M1006.5,507.4 H1096.2 V523.6" fill="none" stroke="#555" stroke-width="1"/>
<text x="962.8" y="510.5" font-size="8.6" text-anchor="middle" font-weight="normal" fill="#555" textLength="47" lengthAdjust="spacingAndGlyphs">USB DEVICE</text>
<g transform="translate(988.2,507.4)" fill="#555" stroke="#555"><text x="0" y="1.8" font-size="4.6" font-weight="bold" stroke="none" font-style="italic">SS</text><path d="M7,0 H15.6 M9.2,0 l2,-1.7 h1.6 M10.4,0 l2,1.7 h1.6" fill="none" stroke-width="0.6"/><path d="M15.2,-1 l1.8,1 l-1.8,1 Z" stroke="none"/><circle cx="13.2" cy="-1.7" r="0.6" stroke="none"/><rect x="13.8" y="1.2" width="1.1" height="1.1" stroke="none"/></g>
<text x="902.6" y="520.7" font-size="8.6" text-anchor="middle" font-weight="normal" fill="#555" textLength="29.5" lengthAdjust="spacingAndGlyphs">Group 1</text>
<line x1="857.4" y1="517.4" x2="883.6" y2="517.4" stroke="#555" stroke-width="1" stroke-dasharray="1.2 1.75"/>
<line x1="922.4" y1="517.4" x2="948.6" y2="517.4" stroke="#555" stroke-width="1" stroke-dasharray="1.2 1.75"/>
<text x="1041.2" y="520.7" font-size="8.6" text-anchor="middle" font-weight="normal" fill="#555" textLength="29.5" lengthAdjust="spacingAndGlyphs">Group 2</text>
<line x1="993.6" y1="517.4" x2="1020.6" y2="517.4" stroke="#555" stroke-width="1" stroke-dasharray="1.2 1.75"/>
<line x1="1059.4" y1="517.4" x2="1086" y2="517.4" stroke="#555" stroke-width="1" stroke-dasharray="1.2 1.75"/>
<use href="#usba" x="846.7" y="529.4"/>
<use href="#usba" x="886.1" y="529.4"/>
<use href="#usba" x="984.8" y="529.4"/>
<use href="#usba" x="1024.6" y="529.4"/>
<use href="#usbc" x="928.4" y="562.3"/>
<use href="#jack" x="943.6" y="546.8"/>
<use href="#usbc" x="1066.6" y="562.3"/>
<use href="#jack" x="1081.8" y="546.8"/>
<text x="895.8" y="583.74" font-size="7.6" text-anchor="middle" font-weight="normal" fill="#555">2</text>
<text x="943.6" y="583.74" font-size="7.6" text-anchor="middle" font-weight="normal" fill="#555">3</text>
<text x="994.2" y="583.74" font-size="7.6" text-anchor="middle" font-weight="normal" fill="#555">1</text>
<text x="1034.4" y="583.74" font-size="7.6" text-anchor="middle" font-weight="normal" fill="#555">2</text>
<text x="1081.8" y="583.74" font-size="7.6" text-anchor="middle" font-weight="normal" fill="#555">3</text>
<path d="M1118.4,525.8 V518.8 H1236.5 M1264.2,518.8 H1381.6 V525.8" fill="none" stroke="#555" stroke-width="1"/>
<text x="1250.2" y="521" font-size="8.6" text-anchor="middle" font-weight="normal" fill="#555" textLength="16.5" lengthAdjust="spacingAndGlyphs">LAN</text>
<use href="#rjl" x="1117.6" y="530.2"/>
<text x="1145.3" y="583.74" font-size="7.6" text-anchor="middle" font-weight="normal" fill="#555">1</text>
<use href="#rjl" x="1187.6" y="530.2"/>
<text x="1215.3" y="583.74" font-size="7.6" text-anchor="middle" font-weight="normal" fill="#555">2</text>
<use href="#rjl" x="1257.6" y="530.2"/>
<text x="1285.3" y="583.74" font-size="7.6" text-anchor="middle" font-weight="normal" fill="#555">3</text>
<use href="#rjl" x="1327.6" y="530.2"/>
<text x="1355.3" y="583.74" font-size="7.6" text-anchor="middle" font-weight="normal" fill="#555">4</text>
<text x="1403.8" y="553.12" font-size="7" text-anchor="middle" font-weight="normal" fill="#555" textLength="22" lengthAdjust="spacingAndGlyphs">RESET</text>
<circle cx="1404.4" cy="560.9" r="3.1" fill="#fff" stroke="#333" stroke-width="1"/>
<use href="#hiz" x="1176.4" y="426.7"/>
<text x="1200.7" y="458.13" font-size="6.2" text-anchor="middle" font-weight="normal" fill="#666">L+</text>
<text x="1212.8" y="458.13" font-size="6.2" text-anchor="middle" font-weight="normal" fill="#666">L-</text>
<text x="1224.9" y="458.13" font-size="6.2" text-anchor="middle" font-weight="normal" fill="#666">Lo-Z</text>
<text x="1238.3" y="458.13" font-size="6.2" text-anchor="middle" font-weight="normal" fill="#666">R+</text>
<text x="1249.7" y="458.13" font-size="6.2" text-anchor="middle" font-weight="normal" fill="#666">R-</text>
<text x="1201" y="505.47" font-size="5.2" text-anchor="middle" font-weight="normal" fill="#555">Hi-Z</text>
<text x="1249.2" y="505.47" font-size="5.2" text-anchor="middle" font-weight="normal" fill="#555">COM</text>
<path d="M1198.9,506.6 h7 M1243.9,506.6 h7" stroke="#444" stroke-width="0.7"/>
<text x="1224.6" y="507.05" font-size="6.8" text-anchor="middle" font-weight="normal" fill="#555" textLength="28" lengthAdjust="spacingAndGlyphs">Hi-Z OUT1</text>
<use href="#hiz" x="1303.6" y="426.7"/>
<text x="1327.9" y="458.13" font-size="6.2" text-anchor="middle" font-weight="normal" fill="#666">L+</text>
<text x="1340" y="458.13" font-size="6.2" text-anchor="middle" font-weight="normal" fill="#666">L-</text>
<text x="1352.1" y="458.13" font-size="6.2" text-anchor="middle" font-weight="normal" fill="#666">Lo-Z</text>
<text x="1365.5" y="458.13" font-size="6.2" text-anchor="middle" font-weight="normal" fill="#666">R+</text>
<text x="1376.9" y="458.13" font-size="6.2" text-anchor="middle" font-weight="normal" fill="#666">R-</text>
<text x="1328.2" y="505.47" font-size="5.2" text-anchor="middle" font-weight="normal" fill="#555">Hi-Z</text>
<text x="1376.4" y="505.47" font-size="5.2" text-anchor="middle" font-weight="normal" fill="#555">COM</text>
<path d="M1326.1,506.6 h7 M1371.1,506.6 h7" stroke="#444" stroke-width="0.7"/>
<text x="1351.8" y="507.05" font-size="6.8" text-anchor="middle" font-weight="normal" fill="#555" textLength="28" lengthAdjust="spacingAndGlyphs">Hi-Z OUT2</text>
<use href="#screw" x="1167.8" y="439.8"/>
<use href="#screw" x="1409.2" y="439.8"/>
<use href="#screw" x="1288.3" y="487.6"/>
<path d="M205.4,622.2 V590.6 H342 M380,590.6 H517.4 V622.2" fill="none" stroke="#555" stroke-width="1"/>
<text x="360.8" y="593.7" font-size="8.6" text-anchor="middle" font-weight="normal" fill="#555" textLength="30" lengthAdjust="spacingAndGlyphs">INPUTS</text>
<use href="#screw" x="280.8" y="607.4"/>
<use href="#screw" x="280.8" y="677.4"/>
<use href="#hdmi" x="280.8" y="628.4"/>
<use href="#hdmi" x="280.8" y="698.4"/>
<text x="280.8" y="661.46" font-size="7.4" text-anchor="middle" font-weight="normal" fill="#555" textLength="24.5" lengthAdjust="spacingAndGlyphs">HDMI 2</text>
<text x="280.8" y="731.26" font-size="7.4" text-anchor="middle" font-weight="normal" fill="#555" textLength="24.5" lengthAdjust="spacingAndGlyphs">HDMI 1</text>
<use href="#screw" x="350.8" y="607.4"/>
<use href="#screw" x="350.8" y="677.4"/>
<use href="#hdmi" x="350.8" y="628.4"/>
<use href="#hdmi" x="350.8" y="698.4"/>
<text x="350.8" y="661.46" font-size="7.4" text-anchor="middle" font-weight="normal" fill="#555" textLength="24.5" lengthAdjust="spacingAndGlyphs">HDMI 4</text>
<text x="350.8" y="731.26" font-size="7.4" text-anchor="middle" font-weight="normal" fill="#555" textLength="24.5" lengthAdjust="spacingAndGlyphs">HDMI 3</text>
<use href="#screw" x="420.8" y="607.4"/>
<use href="#screw" x="420.8" y="677.4"/>
<use href="#hdmi" x="420.8" y="628.4"/>
<use href="#hdmi" x="420.8" y="698.4"/>
<text x="420.8" y="661.46" font-size="7.4" text-anchor="middle" font-weight="normal" fill="#555" textLength="24.5" lengthAdjust="spacingAndGlyphs">HDMI 6</text>
<text x="420.8" y="731.26" font-size="7.4" text-anchor="middle" font-weight="normal" fill="#555" textLength="24.5" lengthAdjust="spacingAndGlyphs">HDMI 5</text>
<use href="#screw" x="490.8" y="607.4"/>
<use href="#screw" x="490.8" y="677.4"/>
<use href="#hdmi" x="490.8" y="628.4"/>
<use href="#hdmi" x="490.8" y="698.4"/>
<text x="490.8" y="661.46" font-size="7.4" text-anchor="middle" font-weight="normal" fill="#555" textLength="24.5" lengthAdjust="spacingAndGlyphs">HDMI 8</text>
<text x="490.8" y="731.26" font-size="7.4" text-anchor="middle" font-weight="normal" fill="#555" textLength="24.5" lengthAdjust="spacingAndGlyphs">HDMI 7</text>
<use href="#jack" x="220.6" y="622.9"/>
<use href="#usbc" x="205.1" y="638.5"/>
<text x="220.8" y="661.46" font-size="7.4" text-anchor="middle" font-weight="normal" fill="#555" textLength="27.5" lengthAdjust="spacingAndGlyphs">USB-C 2</text>
<use href="#jack" x="220.6" y="692.9"/>
<use href="#usbc" x="205.1" y="708.5"/>
<text x="220.4" y="731.26" font-size="7.4" text-anchor="middle" font-weight="normal" fill="#555" textLength="26.5" lengthAdjust="spacingAndGlyphs">USB-C 1</text>
<path d="M546.8,604.6 V590.7 H793 M861.5,590.7 H1124.2 V602" fill="none" stroke="#555" stroke-width="1"/>
<text x="821.4" y="593.9" font-size="8.6" text-anchor="middle" font-weight="normal" fill="#555" textLength="45" lengthAdjust="spacingAndGlyphs">HDBT PoE+</text>
<path d="M849,587.2 L854.6,590.8 L849,594.4 Z" fill="#222"/>
<use href="#rjh" x="546.7" y="604.6"/>
<use href="#rjh" x="546.7" y="674.6"/>
<text x="573.3" y="661.26" font-size="7.4" text-anchor="middle" font-weight="normal" fill="#555">2</text>
<text x="573.3" y="731.26" font-size="7.4" text-anchor="middle" font-weight="normal" fill="#555">1</text>
<use href="#rjh" x="721.45" y="604.6"/>
<use href="#rjh" x="721.45" y="674.6"/>
<text x="748.05" y="661.26" font-size="7.4" text-anchor="middle" font-weight="normal" fill="#555">4</text>
<text x="748.05" y="731.26" font-size="7.4" text-anchor="middle" font-weight="normal" fill="#555">3</text>
<use href="#rjh" x="896.2" y="604.6"/>
<use href="#rjh" x="896.2" y="674.6"/>
<text x="922.8" y="661.26" font-size="7.4" text-anchor="middle" font-weight="normal" fill="#555">6</text>
<text x="922.8" y="731.26" font-size="7.4" text-anchor="middle" font-weight="normal" fill="#555">5</text>
<use href="#rjh" x="1070.95" y="604.6"/>
<use href="#rjh" x="1070.95" y="674.6"/>
<text x="1097.55" y="661.26" font-size="7.4" text-anchor="middle" font-weight="normal" fill="#555">8</text>
<text x="1097.55" y="731.26" font-size="7.4" text-anchor="middle" font-weight="normal" fill="#555">7</text>
<path d="M1156,622.2 V590.6 H1251.5 M1319.5,590.6 H1415 V622.2" fill="none" stroke="#555" stroke-width="1"/>
<text x="1285.3" y="593.7" font-size="8.6" text-anchor="middle" font-weight="normal" fill="#555" textLength="65.5" lengthAdjust="spacingAndGlyphs">HDMI OUTPUTS</text>
<use href="#screw" x="1180.2" y="607.4"/>
<use href="#screw" x="1180.2" y="677.4"/>
<use href="#hdmi" x="1180.2" y="628.4"/>
<use href="#hdmi" x="1180.2" y="698.4"/>
<text x="1180.2" y="661.54" font-size="7.6" text-anchor="middle" font-weight="bold" fill="#222">2</text>
<text x="1180.2" y="731.34" font-size="7.6" text-anchor="middle" font-weight="bold" fill="#222">1</text>
<use href="#screw" x="1250.2" y="607.4"/>
<use href="#screw" x="1250.2" y="677.4"/>
<use href="#hdmi" x="1250.2" y="628.4"/>
<use href="#hdmi" x="1250.2" y="698.4"/>
<text x="1250.2" y="661.54" font-size="7.6" text-anchor="middle" font-weight="bold" fill="#222">4</text>
<text x="1250.2" y="731.34" font-size="7.6" text-anchor="middle" font-weight="bold" fill="#222">3</text>
<use href="#screw" x="1320.2" y="607.4"/>
<use href="#screw" x="1320.2" y="677.4"/>
<use href="#hdmi" x="1320.2" y="628.4"/>
<use href="#hdmi" x="1320.2" y="698.4"/>
<text x="1320.2" y="661.54" font-size="7.6" text-anchor="middle" font-weight="bold" fill="#222">6</text>
<text x="1320.2" y="731.34" font-size="7.6" text-anchor="middle" font-weight="bold" fill="#222">5</text>
<use href="#screw" x="1390.2" y="607.4"/>
<use href="#screw" x="1390.2" y="677.4"/>
<use href="#hdmi" x="1390.2" y="628.4"/>
<use href="#hdmi" x="1390.2" y="698.4"/>
<text x="1390.2" y="661.54" font-size="7.6" text-anchor="middle" font-weight="bold" fill="#222">8</text>
<text x="1390.2" y="731.34" font-size="7.6" text-anchor="middle" font-weight="bold" fill="#222">7</text>
<path d="M1439.1,388.6 L1449.9,407.3 H1428.3 Z" fill="#111"/>
<path d="M1440.2,393.5 l-2.4,5.6 h1.9 l-1.5,5 l3.6,-6.4 h-1.9 l1.6,-4.2 Z" fill="#fff"/>
<path d="M1534.5,388.6 L1546.2,407.3 H1522.9 Z" fill="#111"/>
<path d="M1534.5,393.2 V401.8 M1534.5,403.6 V405.2" stroke="#fff" stroke-width="1.5"/>
<rect x="1453" y="388.3" width="67.2" height="19.6" fill="#111"/>
<rect x="1454.4" y="389.6" width="64.4" height="7.4" fill="#fff"/>
<text x="1486.6" y="396.6" font-size="8.2" text-anchor="middle" font-weight="bold" fill="#111" textLength="44" lengthAdjust="spacingAndGlyphs">WARNING</text>
<text x="1486.6" y="402.2" font-size="4.2" text-anchor="middle" font-weight="bold" fill="#fff" textLength="61" lengthAdjust="spacingAndGlyphs">RISK OF ELECTRIC SHOCK</text>
<text x="1486.6" y="406.8" font-size="4.2" text-anchor="middle" font-weight="bold" fill="#fff" textLength="33" lengthAdjust="spacingAndGlyphs">DO NOT OPEN</text>
<text x="1488.8" y="421.1" font-size="8.6" text-anchor="middle" font-weight="normal" fill="#555" textLength="85.5" lengthAdjust="spacingAndGlyphs">AC 100-240V 50/60Hz</text>
<path d="M1489.6,428.4 Q1490.4,428 1491.2,428.4 L1543.5,454.6 Q1546.6,456.2 1546.6,459.6 V634 Q1546.6,637.4 1543.5,639 L1491.2,666.2 Q1490.4,666.6 1489.6,666.2 L1437.5,639 Q1434.4,637.4 1434.4,634 V459.6 Q1434.4,456.2 1437.5,454.6 Z" fill="#fff" stroke="#222" stroke-width="1.3"/>
<circle cx="1490.3" cy="441.2" r="8.9" fill="#fff" stroke="#222" stroke-width="1"/><circle cx="1490.3" cy="441.2" r="5" fill="#fff" stroke="#111" stroke-width="1.9"/>
<circle cx="1490.3" cy="652.8" r="8.9" fill="#fff" stroke="#222" stroke-width="1"/><circle cx="1490.3" cy="652.8" r="5" fill="#fff" stroke="#111" stroke-width="1.9"/>
<rect x="1449.4" y="461.8" width="81.5" height="98.3" fill="#fff" stroke="#222" stroke-width="1.1"/>
<rect x="1459.4" y="472.8" width="62" height="76" fill="#fff" stroke="#111" stroke-width="1"/>
<rect x="1461" y="474.4" width="58.8" height="72.8" fill="#fff" stroke="#111" stroke-width="1"/>
<path d="M1461,541.6 H1519.8 M1461,545.2 H1519.8" stroke="#111" stroke-width="0.9"/>
<circle cx="1490.1" cy="489.7" r="6.6" fill="#fff" stroke="#222" stroke-width="1.9"/>
<line x1="1490.3" y1="515.2" x2="1490.3" y2="528.6" stroke="#222" stroke-width="2" stroke-linecap="round"/>
<rect x="1443.9" y="566.6" width="92.6" height="66.6" rx="5.5" fill="#fff" stroke="#222" stroke-width="1.1"/>
<rect x="1461.6" y="583.4" width="16.2" height="7.2" fill="#fff" stroke="#222" stroke-width="1"/>
<rect x="1463.6" y="585.3" width="12.2" height="3.4" fill="#ccc"/>
<rect x="1502.8" y="583.4" width="16.2" height="7.2" fill="#fff" stroke="#222" stroke-width="1"/>
<rect x="1504.8" y="585.3" width="12.2" height="3.4" fill="#ccc"/>
<rect x="1480.6" y="609" width="19.4" height="7.2" fill="#fff" stroke="#222" stroke-width="1"/>
<rect x="1482.6" y="610.9" width="15.4" height="3.4" fill="#ccc"/>
<circle cx="1472.6" cy="712.4" r="28.6" fill="#fff" stroke="#222" stroke-width="1.2"/>
<circle cx="1472.6" cy="712.4" r="26.2" fill="#fff" stroke="#222" stroke-width="0.8"/>
<circle cx="1472.6" cy="712.4" r="23.8" fill="#fff" stroke="#222" stroke-width="1.2"/>
<circle cx="1472.6" cy="712.4" r="21" fill="#fff" stroke="#222" stroke-width="0.7"/>
<circle cx="1472.6" cy="712.4" r="22.4" fill="none" stroke="#555" stroke-width="1.8" stroke-dasharray="0.6 0.6"/>
<text x="1472.6" y="717" font-size="13.2" text-anchor="middle" font-weight="bold" fill="#aaa" stroke="#444" stroke-width="0.7" textLength="34" lengthAdjust="spacingAndGlyphs">FUSE</text>
<path d="M1460.6,722.6 Q1472.6,730.5 1484.8,722.6" fill="none" stroke="#444" stroke-width="0.8"/><path d="M1483.6,721.4 l3.4,-0.8 l-1.4,3.4 Z" fill="#fff" stroke="#444" stroke-width="0.6"/>
<circle cx="1529.8" cy="681.6" r="6.8" fill="#fff" stroke="#333" stroke-width="0.9"/><path d="M1529.8,677.2 V681.4 M1526,681.4 H1533.6 M1527.2,683.4 H1532.4 M1528.6,685.3 H1531" stroke="#333" stroke-width="0.8"/>
<circle cx="1529.8" cy="712.4" r="14" fill="#fff" stroke="#222" stroke-width="1"/><circle cx="1529.8" cy="712.4" r="8.2" fill="#fff" stroke="#222" stroke-width="1.6"/><circle cx="1529.8" cy="712.4" r="5.4" fill="#fff" stroke="#555" stroke-width="0.8"/>
<circle cx="806.4" cy="428.6" r="0.7" fill="#555"/>
<polyline points="217.4,234.5 217.4,474" fill="none" stroke="#87648c" stroke-width="1.2"/>
<polyline points="360.6,234 360.6,474" fill="none" stroke="#87648c" stroke-width="1.2"/>
<polyline points="632.3,235 632.3,474" fill="none" stroke="#87648c" stroke-width="1.2"/>
<polyline points="867.4,235 867.4,380.7 734.3,380.7 734.3,514 774.2,514 774.2,567.6 789,567.6" fill="none" stroke="#6f7391" stroke-width="1.2"/>
<polyline points="1126.7,227.5 1126.7,347.1 1209.2,347.1 1209.2,426.7" fill="none" stroke="#87648c" stroke-width="1.2"/>
<polyline points="1220.8,227.5 1220.8,380.7 1352,380.7 1352,439.5" fill="none" stroke="#87648c" stroke-width="1.2"/>
<polyline points="1304,227 1304,320" fill="none" stroke="#90b779" stroke-width="1.2"/>
<polyline points="1287.4,343.2 1287.4,531" fill="none" stroke="#90b779" stroke-width="1.2"/>
<polyline points="1387.7,227.5 1387.7,324.4 1318,324.4" fill="none" stroke="#90b779" stroke-width="1.2"/>
<polyline points="1509,227 1509,324.4 1455,324.4" fill="none" stroke="#90b779" stroke-width="1.2"/>
<polyline points="1428.5,343.2 1428.5,514.2 1354.9,514.2 1354.9,531.5" fill="none" stroke="#90b779" stroke-width="1.2"/>
<polyline points="205.6,643.8 144.9,643.8 144.9,846.5 167,846.5" fill="none" stroke="#6f7391" stroke-width="1.2"/>
<polyline points="218.7,650 218.7,670 177,670 177,843.5" fill="none" stroke="#90b779" stroke-width="1.2"/>
<polyline points="235.4,643.8 247.7,643.8 247.7,678.4 204.8,678.4 204.8,843.5" fill="none" stroke="#3fb1d6" stroke-width="1.2"/>
<polyline points="187.6,862 187.6,877" fill="none" stroke="#6f7391" stroke-width="1.2"/>
<polyline points="235.4,714 251.8,714 251.8,877" fill="none" stroke="#dc5a64" stroke-width="1.2"/>
<polyline points="417.4,718 417.4,877" fill="none" stroke="#3fb1d6" stroke-width="1.2"/>
<polyline points="572,719.5 572,981.5" fill="none" stroke="#5a7052" stroke-width="1.2"/>
<polyline points="856.4,571 856.4,583.1 710.9,583.1 710.9,878" fill="none" stroke="#6f7391" stroke-width="1.2"/>
<polyline points="747.7,719.5 747.7,795.5 848.8,795.5 848.8,981" fill="none" stroke="#5a7052" stroke-width="1.2"/>
<polyline points="774.5,626.6 799.7,626.6 799.7,762.2 1120.2,762.2 1120.2,981.5" fill="none" stroke="#5a7052" stroke-width="1.2"/>
<polyline points="600.2,622.7 645,622.7 645,751.8 1658,751.8 1658,981.5" fill="none" stroke="#5a7052" stroke-width="1.2"/>
<polyline points="949.6,692.8 977,692.8 977,738.4 1417.7,738.4 1417.7,980" fill="none" stroke="#5a7052" stroke-width="1.2"/>
<polyline points="997.6,571.5 997.6,771.7 1536.8,771.7 1536.8,878" fill="none" stroke="#6f7391" stroke-width="1.2"/>
<polyline points="1204.5,707.3 1217.3,707.3 1217.3,796.4 1267.5,796.4 1267.5,877" fill="none" stroke="#3fb1d6" stroke-width="1.2"/>
<polyline points="520,992.1 500.6,992.1 500.6,1106.5" fill="none" stroke="#3fb1d6" stroke-width="1.2"/>
<polyline points="615,986.3 647.5,986.3 647.5,1051.7 589,1051.7 589,1110" fill="none" stroke="#6f7391" stroke-width="1.2"/>
<polyline points="594.1,981.5 594.1,977.7 660.6,977.7 660.6,1113.5" fill="none" stroke="#6f7391" stroke-width="1.2"/>
<polyline points="821.1,981 821.1,960.1 804.8,960.1 804.8,1113.3 802.5,1113.3" fill="none" stroke="#3fb1d6" stroke-width="1.2"/>
<polyline points="809.5,995.5 732.8,995.5 732.8,1107" fill="none" stroke="#cf6a58" stroke-width="1.2"/>
<polyline points="809.5,991.8 774.3,991.8 774.3,1107" fill="none" stroke="#6f7391" stroke-width="1.2"/>
<polyline points="905,986.1 944.8,986.1 944.8,1051.6 898.4,1051.6 898.4,1110" fill="none" stroke="#6f7391" stroke-width="1.2"/>
<polyline points="1072,996.4 1030.1,996.4 1030.1,1124.6" fill="none" stroke="#cf6a58" stroke-width="1.2"/>
<polyline points="1072,991.9 1065.1,991.9 1065.1,1124.6" fill="none" stroke="#3fb1d6" stroke-width="1.2"/>
<polyline points="1166.2,985.9 1195,985.9 1195,1051.7 1140.6,1051.7 1140.6,1108" fill="none" stroke="#a55a40" stroke-width="1.2"/>
<polyline points="1366,988.5 1310.9,988.5 1310.9,1112.6 1380,1112.6" fill="none" stroke="#cf6a58" stroke-width="1.2"/>
<polyline points="1366,993.7 1346.6,993.7 1346.6,1051.6 1392.3,1051.6 1392.3,1107" fill="none" stroke="#6f7391" stroke-width="1.2"/>
<polyline points="1461,990.3 1485.9,990.3 1485.9,1112.6 1450,1112.6" fill="none" stroke="#3fb1d6" stroke-width="1.2"/>
<polyline points="1608.8,991.3 1589.8,991.3 1589.8,1107" fill="none" stroke="#3fb1d6" stroke-width="1.2"/>
<polyline points="1704.4,986.1 1732.6,986.1 1732.6,1051.6 1675.4,1051.6 1675.4,1110" fill="none" stroke="#6f7391" stroke-width="1.2"/>
<polyline points="1683.4,981.5 1683.4,977.5 1748.2,977.5 1748.2,1113.6" fill="none" stroke="#6f7391" stroke-width="1.2"/>
<text transform="translate(576.4,738.6) rotate(90)" font-size="8.4" fill="#666" textLength="22" lengthAdjust="spacingAndGlyphs">PoE+</text>
<path d="M575.7,761.8 h7.4 l-3.7,7.6 Z" fill="#a8705e"/>
<text transform="translate(751.4,752.8) rotate(90)" font-size="8.4" fill="#666" textLength="22" lengthAdjust="spacingAndGlyphs">PoE+</text>
<path d="M750.7,776 h7.4 l-3.7,7.6 Z" fill="#a8705e"/>
<text transform="translate(805.2,717.6) rotate(90)" font-size="8.4" fill="#666" textLength="22" lengthAdjust="spacingAndGlyphs">PoE+</text>
<path d="M804.5,740.8 h7.4 l-3.7,7.6 Z" fill="#a8705e"/>
<text transform="translate(980.4,701.4) rotate(90)" font-size="8.4" fill="#666" textLength="22" lengthAdjust="spacingAndGlyphs">PoE+</text>
<path d="M979.7,724.6 h7.4 l-3.7,7.6 Z" fill="#a8705e"/>
<use href="#mic" x="217.4" y="202.6"/>
<use href="#kdev" transform="translate(316.2,217.6) scale(0.928,0.925)"/>
<use href="#spk" x="604.2" y="193.2"/>
<use href="#spk" x="635.2" y="193.2"/>
<path d="M619.4,193.5 V187.2 H645.3 V193.5" fill="none" stroke="#87648c" stroke-width="1.4"/>
<rect x="841" y="190" width="56.6" height="45" rx="5" fill="#fff" stroke="#6a6a6a" stroke-width="1.1"/>
<use href="#spk" x="1098.2" y="186.2"/>
<use href="#spk" x="1129.2" y="186.2"/>
<path d="M1113.9,186.5 V181.4 H1139.3 V186.5" fill="none" stroke="#87648c" stroke-width="1.4"/>
<use href="#spk" x="1191.7" y="186.2"/>
<use href="#spk" x="1222.7" y="186.2"/>
<path d="M1206.6,186.5 V181.4 H1231.9 V186.5" fill="none" stroke="#87648c" stroke-width="1.4"/>
<use href="#mic" x="1303" y="195"/>
<use href="#spk" x="1360.3" y="186.2"/>
<use href="#spk" x="1391.3" y="186.2"/>
<path d="M1373.4,186.5 V181.4 H1399.2 V186.5" fill="none" stroke="#87648c" stroke-width="1.4"/>
<circle cx="1509" cy="206.7" r="20.4" fill="#fff" stroke="#6a6a6a" stroke-width="1"/><circle cx="1509" cy="206.7" r="16.6" fill="#fff" stroke="#6a6a6a" stroke-width="1"/><circle cx="1509" cy="206.7" r="7.2" fill="#fff" stroke="#6a6a6a" stroke-width="1"/>
<circle cx="1496.8" cy="194.5" r="2.7" fill="#fff" stroke="#6a6a6a" stroke-width="0.9"/>
<circle cx="1521.2" cy="194.5" r="2.7" fill="#fff" stroke="#6a6a6a" stroke-width="0.9"/>
<circle cx="1496.8" cy="218.9" r="2.7" fill="#fff" stroke="#6a6a6a" stroke-width="0.9"/>
<circle cx="1521.2" cy="218.9" r="2.7" fill="#fff" stroke="#6a6a6a" stroke-width="0.9"/>
<use href="#cloud" x="1276.6" y="313.2"/>
<use href="#cloud" x="1413" y="312.7"/>
<rect x="155.1" y="876.8" width="56.4" height="44.1" rx="4.4" fill="#fff" stroke="#6a6a6a" stroke-width="1.1"/>
<rect x="223.5" y="876.8" width="56.4" height="44.1" rx="4.4" fill="#fff" stroke="#6a6a6a" stroke-width="1.1"/>
<rect x="389.3" y="876.8" width="56.2" height="44.1" rx="4.4" fill="#fff" stroke="#6a6a6a" stroke-width="1.1"/>
<use href="#cam" transform="translate(710.9,897.8) scale(1)"/>
<use href="#cam" transform="translate(1536.8,897.8) scale(1)"/>
<rect x="1240" y="877" width="55.6" height="36.8" rx="1.6" fill="#fff" stroke="#6a6464" stroke-width="1.2"/><rect x="1242.8" y="879.6" width="50" height="31.4" fill="#fff" stroke="#6a6464" stroke-width="0.9"/><path d="M1254,915.8 Q1250,919.6 1249.4,921.4 Q1249.6,922.6 1252,922.6 H1283.4 Q1285.8,922.6 1286,921.4 Q1285.4,919.6 1281.4,915.8 Z" fill="#fff" stroke="#6a6464" stroke-width="0.9"/><rect x="1261" y="913.8" width="12.4" height="5.2" fill="#fff" stroke="#6a6464" stroke-width="0.9"/>
<use href="#kdev" x="519.6" y="980.6"/>
<use href="#kdev" x="809" y="980"/>
<use href="#kdev" x="1071.4" y="980.6"/>
<use href="#kdev" x="1365.6" y="979.2"/>
<use href="#kdev" x="1608.3" y="980.6"/>
<rect x="465.7" y="1106.8" width="68.4" height="36.6" rx="2" fill="#fff" stroke="#6e6e6e" stroke-width="1.2"/>
<rect x="466.9" y="1108" width="66" height="34.2" rx="1.2" fill="none" stroke="#8a8a8a" stroke-width="0.6"/>
<rect x="465" y="1143.4" width="69.8" height="3.4" rx="1.4" fill="#fff" stroke="#6e6e6e" stroke-width="1"/>
<rect x="733" y="1107" width="68.6" height="37" rx="2" fill="#fff" stroke="#6e6e6e" stroke-width="1.2"/>
<rect x="734.2" y="1108.2" width="66.2" height="34.6" rx="1.2" fill="none" stroke="#8a8a8a" stroke-width="0.6"/>
<rect x="732.3" y="1144" width="70" height="3.4" rx="1.4" fill="#fff" stroke="#6e6e6e" stroke-width="1"/>
<rect x="1380.7" y="1107" width="68.4" height="37" rx="2" fill="#fff" stroke="#6e6e6e" stroke-width="1.2"/>
<rect x="1381.9" y="1108.2" width="66" height="34.6" rx="1.2" fill="none" stroke="#8a8a8a" stroke-width="0.6"/>
<rect x="1380" y="1144" width="69.8" height="3.4" rx="1.4" fill="#fff" stroke="#6e6e6e" stroke-width="1"/>
<rect x="1555.4" y="1107" width="68.8" height="37" rx="2" fill="#fff" stroke="#6e6e6e" stroke-width="1.2"/>
<rect x="1556.6" y="1108.2" width="66.4" height="34.6" rx="1.2" fill="none" stroke="#8a8a8a" stroke-width="0.6"/>
<rect x="1554.7" y="1144" width="70.2" height="3.4" rx="1.4" fill="#fff" stroke="#6e6e6e" stroke-width="1"/>
<use href="#cam" transform="translate(589,1125.6) scale(0.77)"/>
<use href="#cam" transform="translate(898.4,1125.4) scale(0.77)"/>
<use href="#cam" transform="translate(1675.4,1125.6) scale(0.77)"/>
<circle cx="660.3" cy="1130.4" r="17.2" fill="#fff" stroke="#7a6a66" stroke-width="1.1"/><circle cx="660.3" cy="1130.4" r="7.3" fill="#fff" stroke="#7a6a66" stroke-width="1.1"/>
<circle cx="1747.5" cy="1130.6" r="17.2" fill="#fff" stroke="#7a6a66" stroke-width="1.1"/><circle cx="1747.5" cy="1130.6" r="7.3" fill="#fff" stroke="#7a6a66" stroke-width="1.1"/>
<path d="M1021,1126.2 L1024.4,1124.3 H1067 L1070.4,1126.2" fill="#fff" stroke="#555" stroke-width="0.9"/><rect x="1019.2" y="1145" width="4" height="2.2" rx="1" fill="#fff" stroke="#555" stroke-width="0.7"/><rect x="1065" y="1145" width="4" height="2.2" rx="1" fill="#fff" stroke="#555" stroke-width="0.7"/><rect x="1016.8" y="1126.2" width="58" height="19.2" rx="2.6" fill="#fff" stroke="#555" stroke-width="1.1"/><path d="M1022.2,1131.1 H1048.6 M1022.2,1134.3 H1048.6 M1022.2,1137.4 H1048.6 M1022.2,1140.5 H1048.6" stroke="#555" stroke-width="0.9"/><circle cx="1063.5" cy="1135.7" r="7.1" fill="#fff" stroke="#555" stroke-width="0.9"/><circle cx="1063.5" cy="1135.7" r="4.1" fill="#fff" stroke="#555" stroke-width="0.9"/>
<rect x="1117.6" y="1110" width="46.2" height="36" fill="#fff" stroke="#777" stroke-width="1"/><rect x="1116.2" y="1107.6" width="49" height="2.8" rx="0.8" fill="#fff" stroke="#777" stroke-width="0.9"/><path d="M1116.6,1146 H1164.8 M1139.4,1146 l1.3,1.6 l1.3,-1.6" fill="none" stroke="#777" stroke-width="0.9"/>
<path d="M217.5,354.4 Q214.8,347.3 210.4,340.2 Q214.31,340.8 217.5,343.4 Q220.69,340.8 224.6,340.2 Q220.2,347.3 217.5,354.4 Z" fill="#722b6e"/>
<rect x="189.7" y="303.7" width="52.2" height="19.8" rx="9.9" fill="#fff" stroke="#87648c" stroke-width="1.3"/>
<text x="214.3" y="317.92" font-size="12" text-anchor="middle" font-weight="bold" fill="#111" textLength="33.5" lengthAdjust="spacingAndGlyphs">Audio</text>
<path d="M360.6,354.4 Q357.9,347.3 353.5,340.2 Q357.41,340.8 360.6,343.4 Q363.8,340.8 367.7,340.2 Q363.3,347.3 360.6,354.4 Z" fill="#722b6e"/>
<rect x="334.6" y="303.7" width="52.2" height="19.8" rx="9.9" fill="#fff" stroke="#87648c" stroke-width="1.3"/>
<text x="359.2" y="317.92" font-size="12" text-anchor="middle" font-weight="bold" fill="#111" textLength="33.5" lengthAdjust="spacingAndGlyphs">Audio</text>
<path d="M632.3,275 Q629.6,282.1 625.2,289.2 Q629.1,288.6 632.3,286 Q635.5,288.6 639.4,289.2 Q635,282.1 632.3,275 Z" fill="#722b6e"/>
<rect x="606.3" y="308.9" width="52.2" height="19.8" rx="9.9" fill="#fff" stroke="#87648c" stroke-width="1.3"/>
<text x="628.9" y="323.12" font-size="12" text-anchor="middle" font-weight="bold" fill="#111" textLength="33.5" lengthAdjust="spacingAndGlyphs">Audio</text>
<path d="M867.4,302.3 Q864.7,309.4 860.3,316.5 Q864.2,315.9 867.4,313.3 Q870.6,315.9 874.5,316.5 Q870.1,309.4 867.4,302.3 Z" fill="#515a80"/>
<rect x="843.2" y="254.2" width="52.2" height="19.8" rx="9.9" fill="#fff" stroke="#6f7391" stroke-width="1.3"/>
<text x="869.8" y="268.42" font-size="12" text-anchor="middle" font-weight="bold" fill="#111" textLength="23" lengthAdjust="spacingAndGlyphs">USB</text>
<path d="M1126.7,233.6 Q1124,240.7 1119.6,247.8 Q1123.51,247.2 1126.7,244.6 Q1129.89,247.2 1133.8,247.8 Q1129.4,240.7 1126.7,233.6 Z" fill="#722b6e"/>
<rect x="1100.5" y="254.2" width="52.2" height="19.8" rx="9.9" fill="#fff" stroke="#87648c" stroke-width="1.3"/>
<text x="1125.1" y="268.42" font-size="12" text-anchor="middle" font-weight="bold" fill="#111" textLength="33.5" lengthAdjust="spacingAndGlyphs">Audio</text>
<path d="M1220.8,233.6 Q1218.1,240.7 1213.7,247.8 Q1217.61,247.2 1220.8,244.6 Q1223.99,247.2 1227.9,247.8 Q1223.5,240.7 1220.8,233.6 Z" fill="#722b6e"/>
<rect x="1198.3" y="254.2" width="52.2" height="19.8" rx="9.9" fill="#fff" stroke="#87648c" stroke-width="1.3"/>
<text x="1222.9" y="268.42" font-size="12" text-anchor="middle" font-weight="bold" fill="#111" textLength="33.5" lengthAdjust="spacingAndGlyphs">Audio</text>
<path d="M1303.6,298.7 Q1300.9,291.6 1296.5,284.5 Q1300.4,285.1 1303.6,287.7 Q1306.79,285.1 1310.7,284.5 Q1306.3,291.6 1303.6,298.7 Z" fill="#722b6e"/>
<rect x="1278" y="254.2" width="52.2" height="19.8" rx="9.9" fill="#fff" stroke="#87648c" stroke-width="1.3"/>
<text x="1302.6" y="268.42" font-size="12" text-anchor="middle" font-weight="bold" fill="#111" textLength="33.5" lengthAdjust="spacingAndGlyphs">Audio</text>
<path d="M1387.7,233.6 Q1385,240.7 1380.6,247.8 Q1384.51,247.2 1387.7,244.6 Q1390.89,247.2 1394.8,247.8 Q1390.4,240.7 1387.7,233.6 Z" fill="#722b6e"/>
<rect x="1361.2" y="254.2" width="52.2" height="19.8" rx="9.9" fill="#fff" stroke="#87648c" stroke-width="1.3"/>
<text x="1385.8" y="268.42" font-size="12" text-anchor="middle" font-weight="bold" fill="#111" textLength="33.5" lengthAdjust="spacingAndGlyphs">Audio</text>
<path d="M1509,233.6 Q1506.3,240.7 1501.9,247.8 Q1505.81,247.2 1509,244.6 Q1512.19,247.2 1516.1,247.8 Q1511.7,240.7 1509,233.6 Z" fill="#722b6e"/>
<rect x="1482.9" y="254.2" width="52.2" height="19.8" rx="9.9" fill="#fff" stroke="#87648c" stroke-width="1.3"/>
<text x="1508.5" y="268.42" font-size="12" text-anchor="middle" font-weight="bold" fill="#111" textLength="33.5" lengthAdjust="spacingAndGlyphs">AVoIP</text>
<rect x="129.4" y="803.1" width="30.4" height="12.2" rx="6.1" fill="#fff" stroke="#6f7391" stroke-width="1.1"/>
<text x="145.1" y="812.69" font-size="9.7" text-anchor="middle" font-weight="bold" fill="#111" textLength="20.4" lengthAdjust="spacingAndGlyphs">USB</text>
<rect x="160.9" y="803.1" width="30.6" height="12.2" rx="6.1" fill="#fff" stroke="#90b779" stroke-width="1.1"/>
<text x="176.2" y="812.69" font-size="9.7" text-anchor="middle" font-weight="bold" fill="#111" textLength="16.4" lengthAdjust="spacingAndGlyphs">Eth</text>
<rect x="192.5" y="803.1" width="31" height="12.2" rx="6.1" fill="#fff" stroke="#3fb1d6" stroke-width="1.1"/>
<text x="208" y="812.69" font-size="9.7" text-anchor="middle" font-weight="bold" fill="#111" textLength="13" lengthAdjust="spacingAndGlyphs">DP</text>
<path d="M204.9,819 Q202.2,826.1 197.8,833.2 Q201.71,832.6 204.9,830 Q208.09,832.6 212,833.2 Q207.6,826.1 204.9,819 Z" fill="#1faed8"/>
<rect x="165.9" y="842.7" width="52.2" height="19.8" rx="9.9" fill="#fff" stroke="#6f7391" stroke-width="1.3"/>
<text x="192.7" y="856.92" font-size="12" text-anchor="middle" font-weight="bold" fill="#111" textLength="34" lengthAdjust="spacingAndGlyphs">USB-C</text>
<path d="M251.8,819 Q249.1,826.1 244.7,833.2 Q248.61,832.6 251.8,830 Q255,832.6 258.9,833.2 Q254.5,826.1 251.8,819 Z" fill="#e62c4a"/>
<rect x="225.6" y="842.7" width="52.2" height="19.8" rx="9.9" fill="#fff" stroke="#dc5a64" stroke-width="1.3"/>
<text x="252.4" y="856.92" font-size="12" text-anchor="middle" font-weight="bold" fill="#111" textLength="34" lengthAdjust="spacingAndGlyphs">USB-C</text>
<path d="M417.4,799 Q414.7,806.1 410.3,813.2 Q414.2,812.6 417.4,810 Q420.59,812.6 424.5,813.2 Q420.1,806.1 417.4,799 Z" fill="#1faed8"/>
<rect x="391.3" y="823.5" width="52.2" height="19.8" rx="9.9" fill="#fff" stroke="#3fb1d6" stroke-width="1.3"/>
<text x="417.75" y="837.72" font-size="12" text-anchor="middle" font-weight="bold" fill="#111" textLength="32" lengthAdjust="spacingAndGlyphs">HDMI</text>
<path d="M572,799 Q569.3,806.1 564.9,813.2 Q568.8,812.6 572,810 Q575.2,812.6 579.1,813.2 Q574.7,806.1 572,799 Z" fill="#27592b"/>
<rect x="543.5" y="823.5" width="52.2" height="19.8" rx="9.9" fill="#fff" stroke="#5a7052" stroke-width="1.3"/>
<text x="569.9" y="837.72" font-size="12" text-anchor="middle" font-weight="bold" fill="#111" textLength="30.5" lengthAdjust="spacingAndGlyphs">HDBT</text>
<path d="M710.9,799 Q708.2,806.1 703.8,813.2 Q707.7,812.6 710.9,810 Q714.1,812.6 718,813.2 Q713.6,806.1 710.9,799 Z" fill="#515a80"/>
<rect x="685.4" y="823.5" width="52.2" height="19.8" rx="9.9" fill="#fff" stroke="#6f7391" stroke-width="1.3"/>
<text x="712" y="837.72" font-size="12" text-anchor="middle" font-weight="bold" fill="#111" textLength="23" lengthAdjust="spacingAndGlyphs">USB</text>
<path d="M848.8,876 Q846.1,868.9 841.7,861.8 Q845.6,862.4 848.8,865 Q852,862.4 855.9,861.8 Q851.5,868.9 848.8,876 Z" fill="#27592b"/>
<rect x="820.3" y="823.5" width="52.2" height="19.8" rx="9.9" fill="#fff" stroke="#5a7052" stroke-width="1.3"/>
<text x="846.7" y="837.72" font-size="12" text-anchor="middle" font-weight="bold" fill="#111" textLength="30.5" lengthAdjust="spacingAndGlyphs">HDBT</text>
<path d="M1120.2,876 Q1117.5,868.9 1113.1,861.8 Q1117.01,862.4 1120.2,865 Q1123.39,862.4 1127.3,861.8 Q1122.9,868.9 1120.2,876 Z" fill="#27592b"/>
<rect x="1094.1" y="824.4" width="52.2" height="19.8" rx="9.9" fill="#fff" stroke="#5a7052" stroke-width="1.3"/>
<text x="1120.5" y="838.62" font-size="12" text-anchor="middle" font-weight="bold" fill="#111" textLength="30.5" lengthAdjust="spacingAndGlyphs">HDBT</text>
<path d="M1267.5,872.1 Q1264.8,865 1260.4,857.9 Q1264.31,858.5 1267.5,861.1 Q1270.69,858.5 1274.6,857.9 Q1270.2,865 1267.5,872.1 Z" fill="#1faed8"/>
<rect x="1241.1" y="824" width="52.2" height="19.8" rx="9.9" fill="#fff" stroke="#3fb1d6" stroke-width="1.3"/>
<text x="1267.55" y="838.22" font-size="12" text-anchor="middle" font-weight="bold" fill="#111" textLength="32" lengthAdjust="spacingAndGlyphs">HDMI</text>
<path d="M1417.7,876.7 Q1415,869.6 1410.6,862.5 Q1414.51,863.1 1417.7,865.7 Q1420.89,863.1 1424.8,862.5 Q1420.4,869.6 1417.7,876.7 Z" fill="#27592b"/>
<rect x="1387.4" y="823.6" width="52.2" height="19.8" rx="9.9" fill="#fff" stroke="#5a7052" stroke-width="1.3"/>
<text x="1413.8" y="837.82" font-size="12" text-anchor="middle" font-weight="bold" fill="#111" textLength="30.5" lengthAdjust="spacingAndGlyphs">HDBT</text>
<path d="M1536.8,799 Q1534.1,806.1 1529.7,813.2 Q1533.61,812.6 1536.8,810 Q1539.99,812.6 1543.9,813.2 Q1539.5,806.1 1536.8,799 Z" fill="#515a80"/>
<rect x="1510.7" y="823.5" width="52.2" height="19.8" rx="9.9" fill="#fff" stroke="#6f7391" stroke-width="1.3"/>
<text x="1537.3" y="837.72" font-size="12" text-anchor="middle" font-weight="bold" fill="#111" textLength="23" lengthAdjust="spacingAndGlyphs">USB</text>
<path d="M1658,799 Q1655.3,806.1 1650.9,813.2 Q1654.81,812.6 1658,810 Q1661.19,812.6 1665.1,813.2 Q1660.7,806.1 1658,799 Z" fill="#27592b"/>
<rect x="1631.3" y="824.4" width="52.2" height="19.8" rx="9.9" fill="#fff" stroke="#5a7052" stroke-width="1.3"/>
<text x="1657.7" y="838.62" font-size="12" text-anchor="middle" font-weight="bold" fill="#111" textLength="30.5" lengthAdjust="spacingAndGlyphs">HDBT</text>
<path d="M500.6,1047.6 Q497.9,1054.7 493.5,1061.8 Q497.41,1061.2 500.6,1058.6 Q503.8,1061.2 507.7,1061.8 Q503.3,1054.7 500.6,1047.6 Z" fill="#1faed8"/>
<rect x="474.1" y="1068.1" width="52.2" height="19.8" rx="9.9" fill="#fff" stroke="#3fb1d6" stroke-width="1.3"/>
<text x="500.55" y="1082.32" font-size="12" text-anchor="middle" font-weight="bold" fill="#111" textLength="32" lengthAdjust="spacingAndGlyphs">HDMI</text>
<path d="M589,1063.2 Q586.3,1070.3 581.9,1077.4 Q585.8,1076.8 589,1074.2 Q592.2,1076.8 596.1,1077.4 Q591.7,1070.3 589,1063.2 Z" fill="#515a80"/>
<rect x="562.6" y="1083.3" width="52.2" height="19.8" rx="9.9" fill="#fff" stroke="#6f7391" stroke-width="1.3"/>
<text x="589.2" y="1097.52" font-size="12" text-anchor="middle" font-weight="bold" fill="#111" textLength="23" lengthAdjust="spacingAndGlyphs">USB</text>
<path d="M660.6,1063.2 Q657.9,1070.3 653.5,1077.4 Q657.4,1076.8 660.6,1074.2 Q663.8,1076.8 667.7,1077.4 Q663.3,1070.3 660.6,1063.2 Z" fill="#515a80"/>
<rect x="633.5" y="1083.3" width="52.2" height="19.8" rx="9.9" fill="#fff" stroke="#6f7391" stroke-width="1.3"/>
<text x="660.1" y="1097.52" font-size="12" text-anchor="middle" font-weight="bold" fill="#111" textLength="23" lengthAdjust="spacingAndGlyphs">USB</text>
<path d="M732.8,1069.3 Q730.1,1062.2 725.7,1055.1 Q729.6,1055.7 732.8,1058.3 Q736,1055.7 739.9,1055.1 Q735.5,1062.2 732.8,1069.3 Z" fill="#cc3328"/>
<rect x="706.7" y="1023" width="52.2" height="19.8" rx="9.9" fill="#fff" stroke="#cf6a58" stroke-width="1.3"/>
<text x="732.8" y="1037.22" font-size="12" text-anchor="middle" font-weight="bold" fill="#111" textLength="11.3" lengthAdjust="spacingAndGlyphs">IR</text>
<path d="M774.3,1062.3 Q771.6,1069.4 767.2,1076.5 Q771.1,1075.9 774.3,1073.3 Q777.5,1075.9 781.4,1076.5 Q777,1069.4 774.3,1062.3 Z" fill="#515a80"/>
<rect x="748.2" y="1083.6" width="52.2" height="19.8" rx="9.9" fill="#fff" stroke="#6f7391" stroke-width="1.3"/>
<text x="774.8" y="1097.82" font-size="12" text-anchor="middle" font-weight="bold" fill="#111" textLength="23" lengthAdjust="spacingAndGlyphs">USB</text>
<path d="M804.8,1069.3 Q802.1,1062.2 797.7,1055.1 Q801.6,1055.7 804.8,1058.3 Q808,1055.7 811.9,1055.1 Q807.5,1062.2 804.8,1069.3 Z" fill="#1faed8"/>
<rect x="780.1" y="1023" width="52.2" height="19.8" rx="9.9" fill="#fff" stroke="#3fb1d6" stroke-width="1.3"/>
<text x="806.55" y="1037.22" font-size="12" text-anchor="middle" font-weight="bold" fill="#111" textLength="32" lengthAdjust="spacingAndGlyphs">HDMI</text>
<path d="M898.4,1062.3 Q895.7,1069.4 891.3,1076.5 Q895.2,1075.9 898.4,1073.3 Q901.6,1075.9 905.5,1076.5 Q901.1,1069.4 898.4,1062.3 Z" fill="#515a80"/>
<rect x="872.3" y="1083.6" width="52.2" height="19.8" rx="9.9" fill="#fff" stroke="#6f7391" stroke-width="1.3"/>
<text x="898.9" y="1097.82" font-size="12" text-anchor="middle" font-weight="bold" fill="#111" textLength="23" lengthAdjust="spacingAndGlyphs">USB</text>
<rect x="1003.5" y="1061.7" width="52.2" height="19.8" rx="9.9" fill="#fff" stroke="#cf6a58" stroke-width="1.3"/>
<text x="1029.6" y="1075.92" font-size="12" text-anchor="middle" font-weight="bold" fill="#111" textLength="38.5" lengthAdjust="spacingAndGlyphs">RS-232</text>
<path d="M1065.1,1068.8 Q1062.4,1061.7 1058,1054.6 Q1061.9,1055.2 1065.1,1057.8 Q1068.29,1055.2 1072.2,1054.6 Q1067.8,1061.7 1065.1,1068.8 Z" fill="#1faed8"/>
<rect x="1038.5" y="1024.8" width="52.2" height="19.8" rx="9.9" fill="#fff" stroke="#3fb1d6" stroke-width="1.3"/>
<text x="1064.95" y="1039.02" font-size="12" text-anchor="middle" font-weight="bold" fill="#111" textLength="32" lengthAdjust="spacingAndGlyphs">HDMI</text>
<rect x="1114.6" y="1061.7" width="52.2" height="19.8" rx="9.9" fill="#fff" stroke="#a55a40" stroke-width="1.3"/>
<text x="1140.7" y="1075.92" font-size="12" text-anchor="middle" font-weight="bold" fill="#111" textLength="35" lengthAdjust="spacingAndGlyphs">RELAY</text>
<path d="M1310.9,1069.3 Q1308.2,1062.2 1303.8,1055.1 Q1307.71,1055.7 1310.9,1058.3 Q1314.1,1055.7 1318,1055.1 Q1313.6,1062.2 1310.9,1069.3 Z" fill="#cc3328"/>
<rect x="1284.8" y="1023" width="52.2" height="19.8" rx="9.9" fill="#fff" stroke="#cf6a58" stroke-width="1.3"/>
<text x="1310.9" y="1037.22" font-size="12" text-anchor="middle" font-weight="bold" fill="#111" textLength="11.3" lengthAdjust="spacingAndGlyphs">IR</text>
<path d="M1392.3,1062.3 Q1389.6,1069.4 1385.2,1076.5 Q1389.11,1075.9 1392.3,1073.3 Q1395.49,1075.9 1399.4,1076.5 Q1395,1069.4 1392.3,1062.3 Z" fill="#515a80"/>
<rect x="1362.1" y="1083.6" width="52.2" height="19.8" rx="9.9" fill="#fff" stroke="#6f7391" stroke-width="1.3"/>
<text x="1388.7" y="1097.82" font-size="12" text-anchor="middle" font-weight="bold" fill="#111" textLength="23" lengthAdjust="spacingAndGlyphs">USB</text>
<path d="M1485.9,1069.3 Q1483.2,1062.2 1478.8,1055.1 Q1482.71,1055.7 1485.9,1058.3 Q1489.1,1055.7 1493,1055.1 Q1488.6,1062.2 1485.9,1069.3 Z" fill="#1faed8"/>
<rect x="1459.8" y="1024.4" width="52.2" height="19.8" rx="9.9" fill="#fff" stroke="#3fb1d6" stroke-width="1.3"/>
<text x="1486.25" y="1038.62" font-size="12" text-anchor="middle" font-weight="bold" fill="#111" textLength="32" lengthAdjust="spacingAndGlyphs">HDMI</text>
<path d="M1589.8,1055.4 Q1587.1,1062.5 1582.7,1069.6 Q1586.61,1069 1589.8,1066.4 Q1592.99,1069 1596.9,1069.6 Q1592.5,1062.5 1589.8,1055.4 Z" fill="#1faed8"/>
<rect x="1563.7" y="1076.7" width="52.2" height="19.8" rx="9.9" fill="#fff" stroke="#3fb1d6" stroke-width="1.3"/>
<text x="1590.5" y="1090.92" font-size="12" text-anchor="middle" font-weight="bold" fill="#111" textLength="34" lengthAdjust="spacingAndGlyphs">USB-C</text>
<path d="M1675.4,1062.3 Q1672.7,1069.4 1668.3,1076.5 Q1672.21,1075.9 1675.4,1073.3 Q1678.6,1075.9 1682.5,1076.5 Q1678.1,1069.4 1675.4,1062.3 Z" fill="#515a80"/>
<rect x="1645.8" y="1083.6" width="52.2" height="19.8" rx="9.9" fill="#fff" stroke="#6f7391" stroke-width="1.3"/>
<text x="1672.4" y="1097.82" font-size="12" text-anchor="middle" font-weight="bold" fill="#111" textLength="23" lengthAdjust="spacingAndGlyphs">USB</text>
<path d="M1748.2,1062.3 Q1745.5,1069.4 1741.1,1076.5 Q1745.01,1075.9 1748.2,1073.3 Q1751.39,1075.9 1755.3,1076.5 Q1750.9,1069.4 1748.2,1062.3 Z" fill="#515a80"/>
<rect x="1718.9" y="1083.6" width="52.2" height="19.8" rx="9.9" fill="#fff" stroke="#6f7391" stroke-width="1.3"/>
<text x="1745.5" y="1097.82" font-size="12" text-anchor="middle" font-weight="bold" fill="#111" textLength="23" lengthAdjust="spacingAndGlyphs">USB</text>
<text x="216.7" y="157.3" font-size="16" text-anchor="middle" font-weight="normal" fill="#4c4c4c" textLength="29.3" lengthAdjust="spacingAndGlyphs">MIC</text>
<text x="359.4" y="157.3" font-size="16" text-anchor="middle" font-weight="normal" fill="#4c4c4c" textLength="45" lengthAdjust="spacingAndGlyphs">Music</text>
<text x="359.4" y="177.6" font-size="16" text-anchor="middle" font-weight="normal" fill="#4c4c4c" textLength="47.3" lengthAdjust="spacingAndGlyphs">Player</text>
<text x="632" y="148.3" font-size="16" text-anchor="middle" font-weight="normal" fill="#4c4c4c" textLength="46" lengthAdjust="spacingAndGlyphs">Active</text>
<text x="632" y="168.8" font-size="16" text-anchor="middle" font-weight="normal" fill="#4c4c4c" textLength="71" lengthAdjust="spacingAndGlyphs">Speakers</text>
<text x="869" y="148.3" font-size="16" text-anchor="middle" font-weight="normal" fill="#4c4c4c" textLength="102.7" lengthAdjust="spacingAndGlyphs">PC Recording</text>
<text x="869" y="169.2" font-size="16" text-anchor="middle" font-weight="normal" fill="#4c4c4c" textLength="29.3" lengthAdjust="spacingAndGlyphs">app</text>
<text x="1126" y="144.5" font-size="16" text-anchor="middle" font-weight="normal" fill="#4c4c4c" textLength="56.7" lengthAdjust="spacingAndGlyphs">Passive</text>
<text x="1126" y="165.2" font-size="16" text-anchor="middle" font-weight="normal" fill="#4c4c4c" textLength="71" lengthAdjust="spacingAndGlyphs">Speakers</text>
<text x="1220" y="144.5" font-size="16" text-anchor="middle" font-weight="normal" fill="#4c4c4c" textLength="56.7" lengthAdjust="spacingAndGlyphs">Passive</text>
<text x="1220" y="165.2" font-size="16" text-anchor="middle" font-weight="normal" fill="#4c4c4c" textLength="71" lengthAdjust="spacingAndGlyphs">Speakers</text>
<text x="1303.4" y="144.5" font-size="16" text-anchor="middle" font-weight="normal" fill="#4c4c4c" textLength="52.5" lengthAdjust="spacingAndGlyphs">DANTE</text>
<text x="1303.4" y="165.2" font-size="16" text-anchor="middle" font-weight="normal" fill="#4c4c4c" textLength="26" lengthAdjust="spacingAndGlyphs">Mic</text>
<text x="1387.3" y="144.5" font-size="16" text-anchor="middle" font-weight="normal" fill="#4c4c4c" textLength="52.5" lengthAdjust="spacingAndGlyphs">DANTE</text>
<text x="1387.3" y="165.2" font-size="16" text-anchor="middle" font-weight="normal" fill="#4c4c4c" textLength="71" lengthAdjust="spacingAndGlyphs">Speakers</text>
<text x="1508.4" y="144.5" font-size="16" text-anchor="middle" font-weight="normal" fill="#4c4c4c" textLength="44.3" lengthAdjust="spacingAndGlyphs">H.264</text>
<text x="1508.4" y="165.2" font-size="16" text-anchor="middle" font-weight="normal" fill="#4c4c4c" textLength="79.3" lengthAdjust="spacingAndGlyphs">Streaming</text>
<text x="182.2" y="952.6" font-size="16" text-anchor="middle" font-weight="normal" fill="#4c4c4c" textLength="34.3" lengthAdjust="spacingAndGlyphs">MTR</text>
<text x="182.2" y="973.4" font-size="16" text-anchor="middle" font-weight="normal" fill="#4c4c4c" textLength="34.3" lengthAdjust="spacingAndGlyphs">NUC</text>
<text x="251.4" y="952.6" font-size="16" text-anchor="middle" font-weight="normal" fill="#4c4c4c" textLength="51.3" lengthAdjust="spacingAndGlyphs">ROOM</text>
<text x="251.4" y="973.4" font-size="16" text-anchor="middle" font-weight="normal" fill="#4c4c4c" textLength="34.3" lengthAdjust="spacingAndGlyphs">NUC</text>
<text x="417" y="952.6" font-size="16" text-anchor="middle" font-weight="normal" fill="#4c4c4c" textLength="55.8" lengthAdjust="spacingAndGlyphs">Set-top</text>
<text x="417" y="973.4" font-size="16" text-anchor="middle" font-weight="normal" fill="#4c4c4c" textLength="29.1" lengthAdjust="spacingAndGlyphs">Box</text>
<text x="710.4" y="954.3" font-size="16" text-anchor="middle" font-weight="normal" fill="#4c4c4c" textLength="46.8" lengthAdjust="spacingAndGlyphs">Space</text>
<text x="710.2" y="975.2" font-size="16" text-anchor="middle" font-weight="normal" fill="#4c4c4c" textLength="68" lengthAdjust="spacingAndGlyphs">PTZ Cam</text>
<text x="1265.9" y="952.2" font-size="16" text-anchor="middle" font-weight="normal" fill="#4c4c4c" textLength="60.6" lengthAdjust="spacingAndGlyphs">Monitor</text>
<text x="1535.5" y="954.4" font-size="16" text-anchor="middle" font-weight="normal" fill="#4c4c4c" textLength="68" lengthAdjust="spacingAndGlyphs">PTZ Cam</text>
<text x="573.4" y="1017.5" font-size="16" text-anchor="middle" font-weight="normal" fill="#4c4c4c" textLength="140" lengthAdjust="spacingAndGlyphs">SWT3-22-HU-WP-T</text>
<text x="864.4" y="1017.3" font-size="16" text-anchor="middle" font-weight="normal" fill="#4c4c4c" textLength="111.6" lengthAdjust="spacingAndGlyphs">EXT3-21-XR-TR</text>
<text x="1120" y="1016.2" font-size="16" text-anchor="middle" font-weight="normal" fill="#4c4c4c" textLength="87" lengthAdjust="spacingAndGlyphs">EXT3-XR-TR</text>
<text x="1416.6" y="1016.3" font-size="16" text-anchor="middle" font-weight="normal" fill="#4c4c4c" textLength="105.7" lengthAdjust="spacingAndGlyphs">EXT3-PoE-H-R</text>
<text x="1656.7" y="1017.3" font-size="16" text-anchor="middle" font-weight="normal" fill="#4c4c4c" textLength="92.5" lengthAdjust="spacingAndGlyphs">EXT3-C-XR-T</text>
<text x="499.2" y="1180.2" font-size="16" text-anchor="middle" font-weight="normal" fill="#4c4c4c" textLength="44" lengthAdjust="spacingAndGlyphs">BYOD</text>
<text x="499.2" y="1200.4" font-size="16" text-anchor="middle" font-weight="normal" fill="#4c4c4c" textLength="54" lengthAdjust="spacingAndGlyphs">Laptop</text>
<text x="588.6" y="1180.2" font-size="16" text-anchor="middle" font-weight="normal" fill="#4c4c4c" textLength="34.7" lengthAdjust="spacingAndGlyphs">DOC</text>
<text x="588.6" y="1200.4" font-size="16" text-anchor="middle" font-weight="normal" fill="#4c4c4c" textLength="35" lengthAdjust="spacingAndGlyphs">Cam</text>
<text x="659.6" y="1180.2" font-size="16" text-anchor="middle" font-weight="normal" fill="#4c4c4c" textLength="64.3" lengthAdjust="spacingAndGlyphs">Desktop</text>
<text x="659.6" y="1200.4" font-size="16" text-anchor="middle" font-weight="normal" fill="#4c4c4c" textLength="26" lengthAdjust="spacingAndGlyphs">Mic</text>
<text x="774.3" y="1180.2" font-size="16" text-anchor="middle" font-weight="normal" fill="#4c4c4c" textLength="45.8" lengthAdjust="spacingAndGlyphs">Touch</text>
<text x="774.3" y="1200.4" font-size="16" text-anchor="middle" font-weight="normal" fill="#4c4c4c" textLength="30.5" lengthAdjust="spacingAndGlyphs">TV 1</text>
<text x="894.6" y="1180.2" font-size="16" text-anchor="middle" font-weight="normal" fill="#4c4c4c" textLength="28" lengthAdjust="spacingAndGlyphs">PTZ</text>
<text x="894.6" y="1200.4" font-size="16" text-anchor="middle" font-weight="normal" fill="#4c4c4c" textLength="47.5" lengthAdjust="spacingAndGlyphs">Cam 1</text>
<text x="1043.9" y="1180.2" font-size="16" text-anchor="middle" font-weight="normal" fill="#4c4c4c" textLength="70" lengthAdjust="spacingAndGlyphs">Projector</text>
<text x="1139.9" y="1180.2" font-size="16" text-anchor="middle" font-weight="normal" fill="#4c4c4c" textLength="70" lengthAdjust="spacingAndGlyphs">Projector</text>
<text x="1139.9" y="1200.4" font-size="16" text-anchor="middle" font-weight="normal" fill="#4c4c4c" textLength="51.3" lengthAdjust="spacingAndGlyphs">Screen</text>
<text x="1415.5" y="1180.2" font-size="16" text-anchor="middle" font-weight="normal" fill="#4c4c4c" textLength="45.8" lengthAdjust="spacingAndGlyphs">Touch</text>
<text x="1415.5" y="1200.4" font-size="16" text-anchor="middle" font-weight="normal" fill="#4c4c4c" textLength="30.5" lengthAdjust="spacingAndGlyphs">TV 2</text>
<text x="1588.8" y="1180.2" font-size="16" text-anchor="middle" font-weight="normal" fill="#4c4c4c" textLength="44" lengthAdjust="spacingAndGlyphs">BYOD</text>
<text x="1588.8" y="1200.4" font-size="16" text-anchor="middle" font-weight="normal" fill="#4c4c4c" textLength="54" lengthAdjust="spacingAndGlyphs">Laptop</text>
<text x="1674.7" y="1180.2" font-size="16" text-anchor="middle" font-weight="normal" fill="#4c4c4c" textLength="34.7" lengthAdjust="spacingAndGlyphs">DOC</text>
<text x="1674.7" y="1200.4" font-size="16" text-anchor="middle" font-weight="normal" fill="#4c4c4c" textLength="35" lengthAdjust="spacingAndGlyphs">Cam</text>
<text x="1747.5" y="1180.2" font-size="16" text-anchor="middle" font-weight="normal" fill="#4c4c4c" textLength="64.3" lengthAdjust="spacingAndGlyphs">Desktop</text>
<text x="1747.5" y="1200.4" font-size="16" text-anchor="middle" font-weight="normal" fill="#4c4c4c" textLength="26" lengthAdjust="spacingAndGlyphs">Mic</text>
</svg>
</body></html>
